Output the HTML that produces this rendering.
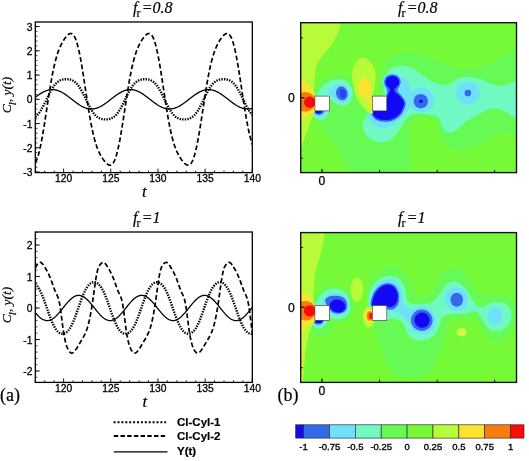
<!DOCTYPE html>
<html><head><meta charset="utf-8"><title>figure</title>
<style>html,body{margin:0;padding:0;background:#fff;font-family:"Liberation Sans",sans-serif}svg{display:block}</style></head>
<body>
<svg width="529" height="461" viewBox="0 0 529 461">
<rect width="529" height="461" fill="#fff"/>
<defs><filter id="soft" x="0" y="0" width="100%" height="100%" filterUnits="userSpaceOnUse" color-interpolation-filters="sRGB"><feGaussianBlur stdDeviation="0.38"/></filter></defs>
<g filter="url(#soft)">
<rect width="529" height="461" fill="#fff"/>
<clipPath id="cp22"><rect x="35.3" y="22" width="217.0" height="150.6"/></clipPath>
<g clip-path="url(#cp22)" fill="none" stroke="#000">
<polyline points="35.30,97.33 35.73,97.00 36.17,96.67 36.60,96.34 37.04,96.02 37.47,95.71 37.90,95.40 38.34,95.09 38.77,94.79 39.21,94.49 39.64,94.20 40.07,93.91 40.51,93.63 40.94,93.36 41.38,93.10 41.81,92.84 42.24,92.59 42.68,92.35 43.11,92.12 43.55,91.90 43.98,91.68 44.41,91.48 44.85,91.28 45.28,91.10 45.72,90.92 46.15,90.76 46.58,90.60 47.02,90.46 47.45,90.32 47.89,90.20 48.32,90.09 48.75,89.99 49.19,89.90 49.62,89.82 50.06,89.76 50.49,89.70 50.92,89.66 51.36,89.63 51.79,89.61 52.23,89.60 52.66,89.60 53.09,89.62 53.53,89.65 53.96,89.69 54.40,89.74 54.83,89.80 55.26,89.88 55.70,89.96 56.13,90.06 56.57,90.17 57.00,90.29 57.43,90.42 57.87,90.56 58.30,90.71 58.74,90.88 59.17,91.05 59.60,91.23 60.04,91.43 60.47,91.63 60.91,91.84 61.34,92.06 61.77,92.29 62.21,92.53 62.64,92.78 63.08,93.03 63.51,93.29 63.94,93.56 64.38,93.84 64.81,94.12 65.25,94.41 65.68,94.71 66.11,95.01 66.55,95.31 66.98,95.63 67.42,95.94 67.85,96.26 68.28,96.58 68.72,96.91 69.15,97.24 69.59,97.57 70.02,97.91 70.45,98.24 70.89,98.58 71.32,98.92 71.76,99.26 72.19,99.59 72.62,99.93 73.06,100.27 73.49,100.61 73.93,100.94 74.36,101.27 74.79,101.60 75.23,101.93 75.66,102.26 76.10,102.58 76.53,102.89 76.96,103.20 77.40,103.51 77.83,103.81 78.27,104.11 78.70,104.40 79.13,104.69 79.57,104.97 80.00,105.24 80.44,105.50 80.87,105.76 81.30,106.01 81.74,106.25 82.17,106.48 82.61,106.70 83.04,106.92 83.47,107.12 83.91,107.32 84.34,107.50 84.78,107.68 85.21,107.84 85.64,108.00 86.08,108.14 86.51,108.28 86.95,108.40 87.38,108.51 87.81,108.61 88.25,108.70 88.68,108.78 89.12,108.84 89.55,108.90 89.98,108.94 90.42,108.97 90.85,108.99 91.29,109.00 91.72,109.00 92.15,108.98 92.59,108.95 93.02,108.91 93.46,108.86 93.89,108.80 94.32,108.72 94.76,108.64 95.19,108.54 95.63,108.43 96.06,108.31 96.49,108.18 96.93,108.04 97.36,107.89 97.80,107.72 98.23,107.55 98.66,107.37 99.10,107.17 99.53,106.97 99.97,106.76 100.40,106.54 100.83,106.31 101.27,106.07 101.70,105.82 102.14,105.57 102.57,105.31 103.00,105.04 103.44,104.76 103.87,104.48 104.31,104.19 104.74,103.89 105.17,103.59 105.61,103.29 106.04,102.97 106.48,102.66 106.91,102.34 107.34,102.02 107.78,101.69 108.21,101.36 108.65,101.03 109.08,100.69 109.51,100.36 109.95,100.02 110.38,99.68 110.82,99.34 111.25,99.01 111.68,98.67 112.12,98.33 112.55,97.99 112.99,97.66 113.42,97.33 113.85,97.00 114.29,96.67 114.72,96.34 115.16,96.02 115.59,95.71 116.02,95.40 116.46,95.09 116.89,94.79 117.33,94.49 117.76,94.20 118.19,93.91 118.63,93.63 119.06,93.36 119.50,93.10 119.93,92.84 120.36,92.59 120.80,92.35 121.23,92.12 121.67,91.90 122.10,91.68 122.53,91.48 122.97,91.28 123.40,91.10 123.84,90.92 124.27,90.76 124.70,90.60 125.14,90.46 125.57,90.32 126.01,90.20 126.44,90.09 126.87,89.99 127.31,89.90 127.74,89.82 128.18,89.76 128.61,89.70 129.04,89.66 129.48,89.63 129.91,89.61 130.35,89.60 130.78,89.60 131.21,89.62 131.65,89.65 132.08,89.69 132.52,89.74 132.95,89.80 133.38,89.88 133.82,89.96 134.25,90.06 134.69,90.17 135.12,90.29 135.55,90.42 135.99,90.56 136.42,90.71 136.86,90.88 137.29,91.05 137.72,91.23 138.16,91.43 138.59,91.63 139.03,91.84 139.46,92.06 139.89,92.29 140.33,92.53 140.76,92.78 141.20,93.03 141.63,93.29 142.06,93.56 142.50,93.84 142.93,94.12 143.37,94.41 143.80,94.71 144.23,95.01 144.67,95.31 145.10,95.63 145.54,95.94 145.97,96.26 146.40,96.58 146.84,96.91 147.27,97.24 147.71,97.57 148.14,97.91 148.57,98.24 149.01,98.58 149.44,98.92 149.88,99.26 150.31,99.59 150.74,99.93 151.18,100.27 151.61,100.61 152.05,100.94 152.48,101.27 152.91,101.60 153.35,101.93 153.78,102.26 154.22,102.58 154.65,102.89 155.08,103.20 155.52,103.51 155.95,103.81 156.39,104.11 156.82,104.40 157.25,104.69 157.69,104.97 158.12,105.24 158.56,105.50 158.99,105.76 159.42,106.01 159.86,106.25 160.29,106.48 160.73,106.70 161.16,106.92 161.59,107.12 162.03,107.32 162.46,107.50 162.90,107.68 163.33,107.84 163.76,108.00 164.20,108.14 164.63,108.28 165.07,108.40 165.50,108.51 165.93,108.61 166.37,108.70 166.80,108.78 167.24,108.84 167.67,108.90 168.10,108.94 168.54,108.97 168.97,108.99 169.41,109.00 169.84,109.00 170.27,108.98 170.71,108.95 171.14,108.91 171.58,108.86 172.01,108.80 172.44,108.72 172.88,108.64 173.31,108.54 173.75,108.43 174.18,108.31 174.61,108.18 175.05,108.04 175.48,107.89 175.92,107.72 176.35,107.55 176.78,107.37 177.22,107.17 177.65,106.97 178.09,106.76 178.52,106.54 178.95,106.31 179.39,106.07 179.82,105.82 180.26,105.57 180.69,105.31 181.12,105.04 181.56,104.76 181.99,104.48 182.43,104.19 182.86,103.89 183.29,103.59 183.73,103.29 184.16,102.97 184.60,102.66 185.03,102.34 185.46,102.02 185.90,101.69 186.33,101.36 186.77,101.03 187.20,100.69 187.63,100.36 188.07,100.02 188.50,99.68 188.94,99.34 189.37,99.01 189.80,98.67 190.24,98.33 190.67,97.99 191.11,97.66 191.54,97.33 191.97,97.00 192.41,96.67 192.84,96.34 193.28,96.02 193.71,95.71 194.14,95.40 194.58,95.09 195.01,94.79 195.45,94.49 195.88,94.20 196.31,93.91 196.75,93.63 197.18,93.36 197.62,93.10 198.05,92.84 198.48,92.59 198.92,92.35 199.35,92.12 199.79,91.90 200.22,91.68 200.65,91.48 201.09,91.28 201.52,91.10 201.96,90.92 202.39,90.76 202.82,90.60 203.26,90.46 203.69,90.32 204.13,90.20 204.56,90.09 204.99,89.99 205.43,89.90 205.86,89.82 206.30,89.76 206.73,89.70 207.16,89.66 207.60,89.63 208.03,89.61 208.47,89.60 208.90,89.60 209.33,89.62 209.77,89.65 210.20,89.69 210.64,89.74 211.07,89.80 211.50,89.88 211.94,89.96 212.37,90.06 212.81,90.17 213.24,90.29 213.67,90.42 214.11,90.56 214.54,90.71 214.98,90.88 215.41,91.05 215.84,91.23 216.28,91.43 216.71,91.63 217.15,91.84 217.58,92.06 218.01,92.29 218.45,92.53 218.88,92.78 219.32,93.03 219.75,93.29 220.18,93.56 220.62,93.84 221.05,94.12 221.49,94.41 221.92,94.71 222.35,95.01 222.79,95.31 223.22,95.63 223.66,95.94 224.09,96.26 224.52,96.58 224.96,96.91 225.39,97.24 225.83,97.57 226.26,97.91 226.69,98.24 227.13,98.58 227.56,98.92 228.00,99.26 228.43,99.59 228.86,99.93 229.30,100.27 229.73,100.61 230.17,100.94 230.60,101.27 231.03,101.60 231.47,101.93 231.90,102.26 232.34,102.58 232.77,102.89 233.20,103.20 233.64,103.51 234.07,103.81 234.51,104.11 234.94,104.40 235.37,104.69 235.81,104.97 236.24,105.24 236.68,105.50 237.11,105.76 237.54,106.01 237.98,106.25 238.41,106.48 238.85,106.70 239.28,106.92 239.71,107.12 240.15,107.32 240.58,107.50 241.02,107.68 241.45,107.84 241.88,108.00 242.32,108.14 242.75,108.28 243.19,108.40 243.62,108.51 244.05,108.61 244.49,108.70 244.92,108.78 245.36,108.84 245.79,108.90 246.22,108.94 246.66,108.97 247.09,108.99 247.53,109.00 247.96,109.00 248.39,108.98 248.83,108.95 249.26,108.91 249.70,108.86 250.13,108.80 250.56,108.72 251.00,108.64 251.43,108.54 251.87,108.43 252.30,108.31" stroke-width="1.3"/>
<polyline points="35.30,116.88 35.73,116.54 36.17,116.17 36.60,115.78 37.04,115.35 37.47,114.90 37.90,114.42 38.34,113.90 38.77,113.36 39.21,112.78 39.64,112.18 40.07,111.54 40.51,110.88 40.94,110.19 41.38,109.47 41.81,108.73 42.24,107.96 42.68,107.17 43.11,106.36 43.55,105.53 43.98,104.69 44.41,103.82 44.85,102.95 45.28,102.07 45.72,101.18 46.15,100.28 46.58,99.38 47.02,98.48 47.45,97.58 47.89,96.69 48.32,95.80 48.75,94.93 49.19,94.06 49.62,93.21 50.06,92.38 50.49,91.57 50.92,90.77 51.36,90.00 51.79,89.25 52.23,88.53 52.66,87.84 53.09,87.17 53.53,86.53 53.96,85.92 54.40,85.34 54.83,84.79 55.26,84.27 55.70,83.78 56.13,83.32 56.57,82.89 57.00,82.49 57.43,82.12 57.87,81.78 58.30,81.46 58.74,81.17 59.17,80.91 59.60,80.67 60.04,80.45 60.47,80.26 60.91,80.08 61.34,79.92 61.77,79.78 62.21,79.66 62.64,79.56 63.08,79.47 63.51,79.39 63.94,79.32 64.38,79.27 64.81,79.23 65.25,79.20 65.68,79.18 66.11,79.17 66.55,79.17 66.98,79.19 67.42,79.21 67.85,79.24 68.28,79.29 68.72,79.34 69.15,79.41 69.59,79.49 70.02,79.59 70.45,79.70 70.89,79.82 71.32,79.97 71.76,80.13 72.19,80.31 72.62,80.51 73.06,80.74 73.49,80.98 73.93,81.25 74.36,81.55 74.79,81.87 75.23,82.23 75.66,82.60 76.10,83.01 76.53,83.45 76.96,83.92 77.40,84.41 77.83,84.94 78.27,85.50 78.70,86.09 79.13,86.71 79.57,87.36 80.00,88.03 80.44,88.73 80.87,89.46 81.30,90.22 81.74,91.00 82.17,91.80 82.61,92.61 83.04,93.45 83.47,94.31 83.91,95.17 84.34,96.05 84.78,96.94 85.21,97.83 85.64,98.73 86.08,99.63 86.51,100.53 86.95,101.43 87.38,102.32 87.81,103.20 88.25,104.07 88.68,104.93 89.12,105.77 89.55,106.59 89.98,107.40 90.42,108.18 90.85,108.94 91.29,109.68 91.72,110.39 92.15,111.07 92.59,111.73 93.02,112.35 93.46,112.95 93.89,113.51 94.32,114.05 94.76,114.56 95.19,115.03 95.63,115.48 96.06,115.89 96.49,116.28 96.93,116.64 97.36,116.97 97.80,117.27 98.23,117.55 98.66,117.80 99.10,118.03 99.53,118.24 99.97,118.43 100.40,118.59 100.83,118.74 101.27,118.87 101.70,118.99 102.14,119.09 102.57,119.17 103.00,119.24 103.44,119.30 103.87,119.35 104.31,119.38 104.74,119.41 105.17,119.42 105.61,119.43 106.04,119.42 106.48,119.40 106.91,119.38 107.34,119.34 107.78,119.29 108.21,119.23 108.65,119.16 109.08,119.07 109.51,118.97 109.95,118.85 110.38,118.71 110.82,118.56 111.25,118.39 111.68,118.20 112.12,117.99 112.55,117.75 112.99,117.50 113.42,117.21 113.85,116.90 114.29,116.57 114.72,116.21 115.16,115.81 115.59,115.39 116.02,114.94 116.46,114.46 116.89,113.95 117.33,113.41 117.76,112.83 118.19,112.23 118.63,111.60 119.06,110.94 119.50,110.25 119.93,109.54 120.36,108.80 120.80,108.03 121.23,107.24 121.67,106.43 122.10,105.61 122.53,104.76 122.97,103.90 123.40,103.03 123.84,102.14 124.27,101.25 124.70,100.36 125.14,99.46 125.57,98.56 126.01,97.66 126.44,96.77 126.87,95.88 127.31,95.00 127.74,94.14 128.18,93.29 128.61,92.45 129.04,91.64 129.48,90.84 129.91,90.07 130.35,89.32 130.78,88.59 131.21,87.90 131.65,87.23 132.08,86.58 132.52,85.97 132.95,85.39 133.38,84.84 133.82,84.32 134.25,83.82 134.69,83.36 135.12,82.93 135.55,82.53 135.99,82.15 136.42,81.81 136.86,81.49 137.29,81.20 137.72,80.93 138.16,80.69 138.59,80.47 139.03,80.27 139.46,80.09 139.89,79.94 140.33,79.80 140.76,79.67 141.20,79.57 141.63,79.47 142.06,79.39 142.50,79.33 142.93,79.28 143.37,79.23 143.80,79.20 144.23,79.18 144.67,79.17 145.10,79.17 145.54,79.18 145.97,79.21 146.40,79.24 146.84,79.28 147.27,79.34 147.71,79.40 148.14,79.48 148.57,79.58 149.01,79.69 149.44,79.81 149.88,79.95 150.31,80.11 150.74,80.29 151.18,80.49 151.61,80.71 152.05,80.96 152.48,81.23 152.91,81.52 153.35,81.85 153.78,82.19 154.22,82.57 154.65,82.98 155.08,83.41 155.52,83.88 155.95,84.37 156.39,84.90 156.82,85.45 157.25,86.04 157.69,86.65 158.12,87.30 158.56,87.97 158.99,88.67 159.42,89.40 159.86,90.15 160.29,90.93 160.73,91.72 161.16,92.54 161.59,93.38 162.03,94.23 162.46,95.10 162.90,95.97 163.33,96.86 163.76,97.76 164.20,98.65 164.63,99.55 165.07,100.45 165.50,101.35 165.93,102.24 166.37,103.12 166.80,103.99 167.24,104.85 167.67,105.70 168.10,106.52 168.54,107.33 168.97,108.11 169.41,108.88 169.84,109.62 170.27,110.33 170.71,111.01 171.14,111.67 171.58,112.30 172.01,112.90 172.44,113.47 172.88,114.01 173.31,114.51 173.75,114.99 174.18,115.44 174.61,115.86 175.05,116.25 175.48,116.61 175.92,116.94 176.35,117.25 176.78,117.53 177.22,117.78 177.65,118.01 178.09,118.22 178.52,118.41 178.95,118.58 179.39,118.73 179.82,118.86 180.26,118.98 180.69,119.08 181.12,119.16 181.56,119.24 181.99,119.30 182.43,119.34 182.86,119.38 183.29,119.41 183.73,119.42 184.16,119.43 184.60,119.42 185.03,119.41 185.46,119.38 185.90,119.34 186.33,119.30 186.77,119.24 187.20,119.16 187.63,119.08 188.07,118.98 188.50,118.86 188.94,118.73 189.37,118.58 189.80,118.41 190.24,118.22 190.67,118.01 191.11,117.78 191.54,117.52 191.97,117.24 192.41,116.93 192.84,116.60 193.28,116.24 193.71,115.85 194.14,115.43 194.58,114.98 195.01,114.50 195.45,113.99 195.88,113.45 196.31,112.88 196.75,112.29 197.18,111.66 197.62,111.00 198.05,110.31 198.48,109.60 198.92,108.86 199.35,108.10 199.79,107.31 200.22,106.50 200.65,105.68 201.09,104.83 201.52,103.98 201.96,103.10 202.39,102.22 202.82,101.33 203.26,100.43 203.69,99.53 204.13,98.63 204.56,97.74 204.99,96.84 205.43,95.96 205.86,95.08 206.30,94.21 206.73,93.36 207.16,92.52 207.60,91.71 208.03,90.91 208.47,90.13 208.90,89.38 209.33,88.66 209.77,87.96 210.20,87.28 210.64,86.64 211.07,86.02 211.50,85.44 211.94,84.88 212.37,84.36 212.81,83.86 213.24,83.40 213.67,82.97 214.11,82.56 214.54,82.19 214.98,81.84 215.41,81.52 215.84,81.22 216.28,80.95 216.71,80.71 217.15,80.49 217.58,80.29 218.01,80.11 218.45,79.95 218.88,79.81 219.32,79.68 219.75,79.57 220.18,79.48 220.62,79.40 221.05,79.33 221.49,79.28 221.92,79.24 222.35,79.21 222.79,79.18 223.22,79.17 223.66,79.17 224.09,79.18 224.52,79.20 224.96,79.23 225.39,79.28 225.83,79.33 226.26,79.40 226.69,79.48 227.13,79.57 227.56,79.68 228.00,79.80 228.43,79.94 228.86,80.10 229.30,80.28 229.73,80.47 230.17,80.69 230.60,80.94 231.03,81.21 231.47,81.50 231.90,81.82 232.34,82.16 232.77,82.54 233.20,82.94 233.64,83.37 234.07,83.83 234.51,84.33 234.94,84.85 235.37,85.40 235.81,85.99 236.24,86.60 236.68,87.24 237.11,87.91 237.54,88.61 237.98,89.33 238.41,90.08 238.85,90.86 239.28,91.65 239.71,92.47 240.15,93.31 240.58,94.16 241.02,95.02 241.45,95.90 241.88,96.78 242.32,97.68 242.75,98.58 243.19,99.48 243.62,100.38 244.05,101.27 244.49,102.16 244.92,103.05 245.36,103.92 245.79,104.78 246.22,105.62 246.66,106.45 247.09,107.26 247.53,108.05 247.96,108.81 248.39,109.55 248.83,110.27 249.26,110.95 249.70,111.61 250.13,112.25 250.56,112.85 251.00,113.42 251.43,113.96 251.87,114.47 252.30,114.95" stroke-width="2.4" stroke-dasharray="1.4 1.2"/>
<polyline points="35.30,162.66 35.73,161.91 36.17,161.05 36.60,160.07 37.04,158.98 37.47,157.78 37.90,156.46 38.34,155.02 38.77,153.46 39.21,151.80 39.64,150.01 40.07,148.12 40.51,146.12 40.94,144.02 41.38,141.82 41.81,139.53 42.24,137.14 42.68,134.68 43.11,132.14 43.55,129.53 43.98,126.86 44.41,124.14 44.85,121.38 45.28,118.58 45.72,115.75 46.15,112.90 46.58,110.04 47.02,107.18 47.45,104.33 47.89,101.49 48.32,98.67 48.75,95.89 49.19,93.14 49.62,90.43 50.06,87.78 50.49,85.18 50.92,82.65 51.36,80.18 51.79,77.79 52.23,75.46 52.66,73.22 53.09,71.06 53.53,68.97 53.96,66.98 54.40,65.06 54.83,63.23 55.26,61.47 55.70,59.80 56.13,58.21 56.57,56.70 57.00,55.26 57.43,53.90 57.87,52.60 58.30,51.37 58.74,50.20 59.17,49.09 59.60,48.03 60.04,47.03 60.47,46.07 60.91,45.16 61.34,44.29 61.77,43.45 62.21,42.65 62.64,41.89 63.08,41.15 63.51,40.44 63.94,39.76 64.38,39.11 64.81,38.48 65.25,37.88 65.68,37.31 66.11,36.76 66.55,36.25 66.98,35.77 67.42,35.33 67.85,34.92 68.28,34.55 68.72,34.24 69.15,33.97 69.59,33.75 70.02,33.60 70.45,33.51 70.89,33.48 71.32,33.54 71.76,33.67 72.19,33.88 72.62,34.19 73.06,34.59 73.49,35.08 73.93,35.68 74.36,36.38 74.79,37.20 75.23,38.12 75.66,39.16 76.10,40.31 76.53,41.58 76.96,42.97 77.40,44.47 77.83,46.10 78.27,47.83 78.70,49.68 79.13,51.64 79.57,53.70 80.00,55.87 80.44,58.13 80.87,60.49 81.30,62.93 81.74,65.45 82.17,68.05 82.61,70.71 83.04,73.42 83.47,76.19 83.91,78.99 84.34,81.83 84.78,84.69 85.21,87.57 85.64,90.45 86.08,93.33 86.51,96.20 86.95,99.05 87.38,101.87 87.81,104.65 88.25,107.40 88.68,110.09 89.12,112.73 89.55,115.31 89.98,117.82 90.42,120.26 90.85,122.63 91.29,124.91 91.72,127.12 92.15,129.24 92.59,131.28 93.02,133.23 93.46,135.09 93.89,136.87 94.32,138.56 94.76,140.17 95.19,141.70 95.63,143.15 96.06,144.52 96.49,145.82 96.93,147.05 97.36,148.21 97.80,149.31 98.23,150.36 98.66,151.34 99.10,152.28 99.53,153.18 99.97,154.03 100.40,154.84 100.83,155.61 101.27,156.36 101.70,157.07 102.14,157.75 102.57,158.42 103.00,159.05 103.44,159.66 103.87,160.25 104.31,160.82 104.74,161.37 105.17,161.89 105.61,162.38 106.04,162.85 106.48,163.28 106.91,163.68 107.34,164.05 107.78,164.37 108.21,164.65 108.65,164.87 109.08,165.05 109.51,165.16 109.95,165.21 110.38,165.19 110.82,165.09 111.25,164.92 111.68,164.65 112.12,164.30 112.55,163.86 112.99,163.31 113.42,162.66 113.85,161.91 114.29,161.05 114.72,160.07 115.16,158.98 115.59,157.78 116.02,156.46 116.46,155.02 116.89,153.46 117.33,151.80 117.76,150.01 118.19,148.12 118.63,146.12 119.06,144.02 119.50,141.82 119.93,139.53 120.36,137.14 120.80,134.68 121.23,132.14 121.67,129.53 122.10,126.86 122.53,124.14 122.97,121.38 123.40,118.58 123.84,115.75 124.27,112.90 124.70,110.04 125.14,107.18 125.57,104.33 126.01,101.49 126.44,98.67 126.87,95.89 127.31,93.14 127.74,90.43 128.18,87.78 128.61,85.18 129.04,82.65 129.48,80.18 129.91,77.79 130.35,75.46 130.78,73.22 131.21,71.06 131.65,68.97 132.08,66.98 132.52,65.06 132.95,63.23 133.38,61.47 133.82,59.80 134.25,58.21 134.69,56.70 135.12,55.26 135.55,53.90 135.99,52.60 136.42,51.37 136.86,50.20 137.29,49.09 137.72,48.03 138.16,47.03 138.59,46.07 139.03,45.16 139.46,44.29 139.89,43.45 140.33,42.65 140.76,41.89 141.20,41.15 141.63,40.44 142.06,39.76 142.50,39.11 142.93,38.48 143.37,37.88 143.80,37.31 144.23,36.76 144.67,36.25 145.10,35.77 145.54,35.33 145.97,34.92 146.40,34.55 146.84,34.24 147.27,33.97 147.71,33.75 148.14,33.60 148.57,33.51 149.01,33.48 149.44,33.54 149.88,33.67 150.31,33.88 150.74,34.19 151.18,34.59 151.61,35.08 152.05,35.68 152.48,36.38 152.91,37.20 153.35,38.12 153.78,39.16 154.22,40.31 154.65,41.58 155.08,42.97 155.52,44.47 155.95,46.10 156.39,47.83 156.82,49.68 157.25,51.64 157.69,53.70 158.12,55.87 158.56,58.13 158.99,60.49 159.42,62.93 159.86,65.45 160.29,68.05 160.73,70.71 161.16,73.42 161.59,76.19 162.03,78.99 162.46,81.83 162.90,84.69 163.33,87.57 163.76,90.45 164.20,93.33 164.63,96.20 165.07,99.05 165.50,101.87 165.93,104.65 166.37,107.40 166.80,110.09 167.24,112.73 167.67,115.31 168.10,117.82 168.54,120.26 168.97,122.63 169.41,124.91 169.84,127.12 170.27,129.24 170.71,131.28 171.14,133.23 171.58,135.09 172.01,136.87 172.44,138.56 172.88,140.17 173.31,141.70 173.75,143.15 174.18,144.52 174.61,145.82 175.05,147.05 175.48,148.21 175.92,149.31 176.35,150.36 176.78,151.34 177.22,152.28 177.65,153.18 178.09,154.03 178.52,154.84 178.95,155.61 179.39,156.36 179.82,157.07 180.26,157.75 180.69,158.42 181.12,159.05 181.56,159.66 181.99,160.25 182.43,160.82 182.86,161.37 183.29,161.89 183.73,162.38 184.16,162.85 184.60,163.28 185.03,163.68 185.46,164.05 185.90,164.37 186.33,164.65 186.77,164.87 187.20,165.05 187.63,165.16 188.07,165.21 188.50,165.19 188.94,165.09 189.37,164.92 189.80,164.65 190.24,164.30 190.67,163.86 191.11,163.31 191.54,162.66 191.97,161.91 192.41,161.05 192.84,160.07 193.28,158.98 193.71,157.78 194.14,156.46 194.58,155.02 195.01,153.46 195.45,151.80 195.88,150.01 196.31,148.12 196.75,146.12 197.18,144.02 197.62,141.82 198.05,139.53 198.48,137.14 198.92,134.68 199.35,132.14 199.79,129.53 200.22,126.86 200.65,124.14 201.09,121.38 201.52,118.58 201.96,115.75 202.39,112.90 202.82,110.04 203.26,107.18 203.69,104.33 204.13,101.49 204.56,98.67 204.99,95.89 205.43,93.14 205.86,90.43 206.30,87.78 206.73,85.18 207.16,82.65 207.60,80.18 208.03,77.79 208.47,75.46 208.90,73.22 209.33,71.06 209.77,68.97 210.20,66.98 210.64,65.06 211.07,63.23 211.50,61.47 211.94,59.80 212.37,58.21 212.81,56.70 213.24,55.26 213.67,53.90 214.11,52.60 214.54,51.37 214.98,50.20 215.41,49.09 215.84,48.03 216.28,47.03 216.71,46.07 217.15,45.16 217.58,44.29 218.01,43.45 218.45,42.65 218.88,41.89 219.32,41.15 219.75,40.44 220.18,39.76 220.62,39.11 221.05,38.48 221.49,37.88 221.92,37.31 222.35,36.76 222.79,36.25 223.22,35.77 223.66,35.33 224.09,34.92 224.52,34.55 224.96,34.24 225.39,33.97 225.83,33.75 226.26,33.60 226.69,33.51 227.13,33.48 227.56,33.54 228.00,33.67 228.43,33.88 228.86,34.19 229.30,34.59 229.73,35.08 230.17,35.68 230.60,36.38 231.03,37.20 231.47,38.12 231.90,39.16 232.34,40.31 232.77,41.58 233.20,42.97 233.64,44.47 234.07,46.10 234.51,47.83 234.94,49.68 235.37,51.64 235.81,53.70 236.24,55.87 236.68,58.13 237.11,60.49 237.54,62.93 237.98,65.45 238.41,68.05 238.85,70.71 239.28,73.42 239.71,76.19 240.15,78.99 240.58,81.83 241.02,84.69 241.45,87.57 241.88,90.45 242.32,93.33 242.75,96.20 243.19,99.05 243.62,101.87 244.05,104.65 244.49,107.40 244.92,110.09 245.36,112.73 245.79,115.31 246.22,117.82 246.66,120.26 247.09,122.63 247.53,124.91 247.96,127.12 248.39,129.24 248.83,131.28 249.26,133.23 249.70,135.09 250.13,136.87 250.56,138.56 251.00,140.17 251.43,141.70 251.87,143.15 252.30,144.52" stroke-width="1.7" stroke-dasharray="4.8 2.6"/>
</g>
<rect x="35.3" y="22" width="217.0" height="150.6" fill="none" stroke="#000" stroke-width="1.3"/>
<line x1="35.30" y1="172.6" x2="35.30" y2="170.6" stroke="#000" stroke-width="0.9"/>
<line x1="44.73" y1="172.6" x2="44.73" y2="170.6" stroke="#000" stroke-width="0.9"/>
<line x1="54.17" y1="172.6" x2="54.17" y2="170.6" stroke="#000" stroke-width="0.9"/>
<line x1="63.60" y1="172.6" x2="63.60" y2="168.6" stroke="#000" stroke-width="0.9"/>
<text x="63.60" y="182.2" font-family="Liberation Sans, sans-serif" font-size="10.3" text-anchor="middle" fill="#000" stroke="#000" stroke-width="0.3">120</text>
<line x1="73.04" y1="172.6" x2="73.04" y2="170.6" stroke="#000" stroke-width="0.9"/>
<line x1="82.47" y1="172.6" x2="82.47" y2="170.6" stroke="#000" stroke-width="0.9"/>
<line x1="91.91" y1="172.6" x2="91.91" y2="170.6" stroke="#000" stroke-width="0.9"/>
<line x1="101.34" y1="172.6" x2="101.34" y2="170.6" stroke="#000" stroke-width="0.9"/>
<line x1="110.78" y1="172.6" x2="110.78" y2="168.6" stroke="#000" stroke-width="0.9"/>
<text x="110.78" y="182.2" font-family="Liberation Sans, sans-serif" font-size="10.3" text-anchor="middle" fill="#000" stroke="#000" stroke-width="0.3">125</text>
<line x1="120.21" y1="172.6" x2="120.21" y2="170.6" stroke="#000" stroke-width="0.9"/>
<line x1="129.65" y1="172.6" x2="129.65" y2="170.6" stroke="#000" stroke-width="0.9"/>
<line x1="139.08" y1="172.6" x2="139.08" y2="170.6" stroke="#000" stroke-width="0.9"/>
<line x1="148.52" y1="172.6" x2="148.52" y2="170.6" stroke="#000" stroke-width="0.9"/>
<line x1="157.95" y1="172.6" x2="157.95" y2="168.6" stroke="#000" stroke-width="0.9"/>
<text x="157.95" y="182.2" font-family="Liberation Sans, sans-serif" font-size="10.3" text-anchor="middle" fill="#000" stroke="#000" stroke-width="0.3">130</text>
<line x1="167.39" y1="172.6" x2="167.39" y2="170.6" stroke="#000" stroke-width="0.9"/>
<line x1="176.82" y1="172.6" x2="176.82" y2="170.6" stroke="#000" stroke-width="0.9"/>
<line x1="186.26" y1="172.6" x2="186.26" y2="170.6" stroke="#000" stroke-width="0.9"/>
<line x1="195.69" y1="172.6" x2="195.69" y2="170.6" stroke="#000" stroke-width="0.9"/>
<line x1="205.13" y1="172.6" x2="205.13" y2="168.6" stroke="#000" stroke-width="0.9"/>
<text x="205.13" y="182.2" font-family="Liberation Sans, sans-serif" font-size="10.3" text-anchor="middle" fill="#000" stroke="#000" stroke-width="0.3">135</text>
<line x1="214.56" y1="172.6" x2="214.56" y2="170.6" stroke="#000" stroke-width="0.9"/>
<line x1="224.00" y1="172.6" x2="224.00" y2="170.6" stroke="#000" stroke-width="0.9"/>
<line x1="233.43" y1="172.6" x2="233.43" y2="170.6" stroke="#000" stroke-width="0.9"/>
<line x1="242.87" y1="172.6" x2="242.87" y2="170.6" stroke="#000" stroke-width="0.9"/>
<line x1="252.30" y1="172.6" x2="252.30" y2="168.6" stroke="#000" stroke-width="0.9"/>
<text x="252.30" y="182.2" font-family="Liberation Sans, sans-serif" font-size="10.3" text-anchor="middle" fill="#000" stroke="#000" stroke-width="0.3">140</text>
<line x1="35.3" y1="26.55" x2="39.8" y2="26.55" stroke="#000" stroke-width="0.9"/>
<text x="32.4" y="30.55" font-family="Liberation Sans, sans-serif" font-size="10.3" text-anchor="end" fill="#000" stroke="#000" stroke-width="0.3">3</text>
<line x1="35.3" y1="50.80" x2="39.8" y2="50.80" stroke="#000" stroke-width="0.9"/>
<text x="32.4" y="54.80" font-family="Liberation Sans, sans-serif" font-size="10.3" text-anchor="end" fill="#000" stroke="#000" stroke-width="0.3">2</text>
<line x1="35.3" y1="75.05" x2="39.8" y2="75.05" stroke="#000" stroke-width="0.9"/>
<text x="32.4" y="79.05" font-family="Liberation Sans, sans-serif" font-size="10.3" text-anchor="end" fill="#000" stroke="#000" stroke-width="0.3">1</text>
<line x1="35.3" y1="99.30" x2="39.8" y2="99.30" stroke="#000" stroke-width="0.9"/>
<text x="32.4" y="103.30" font-family="Liberation Sans, sans-serif" font-size="10.3" text-anchor="end" fill="#000" stroke="#000" stroke-width="0.3">0</text>
<line x1="35.3" y1="123.55" x2="39.8" y2="123.55" stroke="#000" stroke-width="0.9"/>
<text x="32.4" y="127.55" font-family="Liberation Sans, sans-serif" font-size="10.3" text-anchor="end" fill="#000" stroke="#000" stroke-width="0.3">-1</text>
<line x1="35.3" y1="147.80" x2="39.8" y2="147.80" stroke="#000" stroke-width="0.9"/>
<text x="32.4" y="151.80" font-family="Liberation Sans, sans-serif" font-size="10.3" text-anchor="end" fill="#000" stroke="#000" stroke-width="0.3">-2</text>
<line x1="35.3" y1="172.05" x2="39.8" y2="172.05" stroke="#000" stroke-width="0.9"/>
<text x="32.4" y="176.05" font-family="Liberation Sans, sans-serif" font-size="10.3" text-anchor="end" fill="#000" stroke="#000" stroke-width="0.3">-3</text>
<line x1="35.3" y1="172.05" x2="37.5" y2="172.05" stroke="#000" stroke-width="0.7"/>
<line x1="35.3" y1="167.20" x2="37.5" y2="167.20" stroke="#000" stroke-width="0.7"/>
<line x1="35.3" y1="162.35" x2="37.5" y2="162.35" stroke="#000" stroke-width="0.7"/>
<line x1="35.3" y1="157.50" x2="37.5" y2="157.50" stroke="#000" stroke-width="0.7"/>
<line x1="35.3" y1="152.65" x2="37.5" y2="152.65" stroke="#000" stroke-width="0.7"/>
<line x1="35.3" y1="147.80" x2="37.5" y2="147.80" stroke="#000" stroke-width="0.7"/>
<line x1="35.3" y1="142.95" x2="37.5" y2="142.95" stroke="#000" stroke-width="0.7"/>
<line x1="35.3" y1="138.10" x2="37.5" y2="138.10" stroke="#000" stroke-width="0.7"/>
<line x1="35.3" y1="133.25" x2="37.5" y2="133.25" stroke="#000" stroke-width="0.7"/>
<line x1="35.3" y1="128.40" x2="37.5" y2="128.40" stroke="#000" stroke-width="0.7"/>
<line x1="35.3" y1="123.55" x2="37.5" y2="123.55" stroke="#000" stroke-width="0.7"/>
<line x1="35.3" y1="118.70" x2="37.5" y2="118.70" stroke="#000" stroke-width="0.7"/>
<line x1="35.3" y1="113.85" x2="37.5" y2="113.85" stroke="#000" stroke-width="0.7"/>
<line x1="35.3" y1="109.00" x2="37.5" y2="109.00" stroke="#000" stroke-width="0.7"/>
<line x1="35.3" y1="104.15" x2="37.5" y2="104.15" stroke="#000" stroke-width="0.7"/>
<line x1="35.3" y1="99.30" x2="37.5" y2="99.30" stroke="#000" stroke-width="0.7"/>
<line x1="35.3" y1="94.45" x2="37.5" y2="94.45" stroke="#000" stroke-width="0.7"/>
<line x1="35.3" y1="89.60" x2="37.5" y2="89.60" stroke="#000" stroke-width="0.7"/>
<line x1="35.3" y1="84.75" x2="37.5" y2="84.75" stroke="#000" stroke-width="0.7"/>
<line x1="35.3" y1="79.90" x2="37.5" y2="79.90" stroke="#000" stroke-width="0.7"/>
<line x1="35.3" y1="75.05" x2="37.5" y2="75.05" stroke="#000" stroke-width="0.7"/>
<line x1="35.3" y1="70.20" x2="37.5" y2="70.20" stroke="#000" stroke-width="0.7"/>
<line x1="35.3" y1="65.35" x2="37.5" y2="65.35" stroke="#000" stroke-width="0.7"/>
<line x1="35.3" y1="60.50" x2="37.5" y2="60.50" stroke="#000" stroke-width="0.7"/>
<line x1="35.3" y1="55.65" x2="37.5" y2="55.65" stroke="#000" stroke-width="0.7"/>
<line x1="35.3" y1="50.80" x2="37.5" y2="50.80" stroke="#000" stroke-width="0.7"/>
<line x1="35.3" y1="45.95" x2="37.5" y2="45.95" stroke="#000" stroke-width="0.7"/>
<line x1="35.3" y1="41.10" x2="37.5" y2="41.10" stroke="#000" stroke-width="0.7"/>
<line x1="35.3" y1="36.25" x2="37.5" y2="36.25" stroke="#000" stroke-width="0.7"/>
<line x1="35.3" y1="31.40" x2="37.5" y2="31.40" stroke="#000" stroke-width="0.7"/>
<line x1="35.3" y1="26.55" x2="37.5" y2="26.55" stroke="#000" stroke-width="0.7"/>
<clipPath id="cp232"><rect x="35.3" y="232" width="217.0" height="150.39999999999998"/></clipPath>
<g clip-path="url(#cp232)" fill="none" stroke="#000">
<polyline points="35.30,312.66 35.73,313.17 36.17,313.66 36.60,314.14 37.04,314.61 37.47,315.07 37.90,315.52 38.34,315.95 38.77,316.36 39.21,316.76 39.64,317.15 40.07,317.51 40.51,317.86 40.94,318.19 41.38,318.50 41.81,318.80 42.24,319.07 42.68,319.32 43.11,319.55 43.55,319.75 43.98,319.94 44.41,320.10 44.85,320.24 45.28,320.36 45.72,320.46 46.15,320.53 46.58,320.57 47.02,320.60 47.45,320.60 47.89,320.57 48.32,320.53 48.75,320.46 49.19,320.36 49.62,320.24 50.06,320.10 50.49,319.94 50.92,319.75 51.36,319.55 51.79,319.32 52.23,319.07 52.66,318.80 53.09,318.50 53.53,318.19 53.96,317.86 54.40,317.51 54.83,317.15 55.26,316.76 55.70,316.36 56.13,315.95 56.57,315.52 57.00,315.07 57.43,314.61 57.87,314.14 58.30,313.66 58.74,313.17 59.17,312.66 59.60,312.15 60.04,311.63 60.47,311.11 60.91,310.58 61.34,310.04 61.77,309.50 62.21,308.95 62.64,308.41 63.08,307.86 63.51,307.32 63.94,306.77 64.38,306.23 64.81,305.69 65.25,305.16 65.68,304.63 66.11,304.11 66.55,303.59 66.98,303.08 67.42,302.59 67.85,302.10 68.28,301.62 68.72,301.16 69.15,300.70 69.59,300.27 70.02,299.84 70.45,299.43 70.89,299.04 71.32,298.67 71.76,298.31 72.19,297.97 72.62,297.65 73.06,297.35 73.49,297.07 73.93,296.80 74.36,296.56 74.79,296.35 75.23,296.15 75.66,295.98 76.10,295.82 76.53,295.69 76.96,295.59 77.40,295.51 77.83,295.45 78.27,295.41 78.70,295.40 79.13,295.41 79.57,295.45 80.00,295.51 80.44,295.59 80.87,295.69 81.30,295.82 81.74,295.98 82.17,296.15 82.61,296.35 83.04,296.56 83.47,296.80 83.91,297.07 84.34,297.35 84.78,297.65 85.21,297.97 85.64,298.31 86.08,298.67 86.51,299.04 86.95,299.43 87.38,299.84 87.81,300.27 88.25,300.70 88.68,301.16 89.12,301.62 89.55,302.10 89.98,302.59 90.42,303.08 90.85,303.59 91.29,304.11 91.72,304.63 92.15,305.16 92.59,305.69 93.02,306.23 93.46,306.77 93.89,307.32 94.32,307.86 94.76,308.41 95.19,308.95 95.63,309.50 96.06,310.04 96.49,310.58 96.93,311.11 97.36,311.63 97.80,312.15 98.23,312.66 98.66,313.17 99.10,313.66 99.53,314.14 99.97,314.61 100.40,315.07 100.83,315.52 101.27,315.95 101.70,316.36 102.14,316.76 102.57,317.15 103.00,317.51 103.44,317.86 103.87,318.19 104.31,318.50 104.74,318.80 105.17,319.07 105.61,319.32 106.04,319.55 106.48,319.75 106.91,319.94 107.34,320.10 107.78,320.24 108.21,320.36 108.65,320.46 109.08,320.53 109.51,320.57 109.95,320.60 110.38,320.60 110.82,320.57 111.25,320.53 111.68,320.46 112.12,320.36 112.55,320.24 112.99,320.10 113.42,319.94 113.85,319.75 114.29,319.55 114.72,319.32 115.16,319.07 115.59,318.80 116.02,318.50 116.46,318.19 116.89,317.86 117.33,317.51 117.76,317.15 118.19,316.76 118.63,316.36 119.06,315.95 119.50,315.52 119.93,315.07 120.36,314.61 120.80,314.14 121.23,313.66 121.67,313.17 122.10,312.66 122.53,312.15 122.97,311.63 123.40,311.11 123.84,310.58 124.27,310.04 124.70,309.50 125.14,308.95 125.57,308.41 126.01,307.86 126.44,307.32 126.87,306.77 127.31,306.23 127.74,305.69 128.18,305.16 128.61,304.63 129.04,304.11 129.48,303.59 129.91,303.08 130.35,302.59 130.78,302.10 131.21,301.62 131.65,301.16 132.08,300.70 132.52,300.27 132.95,299.84 133.38,299.43 133.82,299.04 134.25,298.67 134.69,298.31 135.12,297.97 135.55,297.65 135.99,297.35 136.42,297.07 136.86,296.80 137.29,296.56 137.72,296.35 138.16,296.15 138.59,295.98 139.03,295.82 139.46,295.69 139.89,295.59 140.33,295.51 140.76,295.45 141.20,295.41 141.63,295.40 142.06,295.41 142.50,295.45 142.93,295.51 143.37,295.59 143.80,295.69 144.23,295.82 144.67,295.98 145.10,296.15 145.54,296.35 145.97,296.56 146.40,296.80 146.84,297.07 147.27,297.35 147.71,297.65 148.14,297.97 148.57,298.31 149.01,298.67 149.44,299.04 149.88,299.43 150.31,299.84 150.74,300.27 151.18,300.70 151.61,301.16 152.05,301.62 152.48,302.10 152.91,302.59 153.35,303.08 153.78,303.59 154.22,304.11 154.65,304.63 155.08,305.16 155.52,305.69 155.95,306.23 156.39,306.77 156.82,307.32 157.25,307.86 157.69,308.41 158.12,308.95 158.56,309.50 158.99,310.04 159.42,310.58 159.86,311.11 160.29,311.63 160.73,312.15 161.16,312.66 161.59,313.17 162.03,313.66 162.46,314.14 162.90,314.61 163.33,315.07 163.76,315.52 164.20,315.95 164.63,316.36 165.07,316.76 165.50,317.15 165.93,317.51 166.37,317.86 166.80,318.19 167.24,318.50 167.67,318.80 168.10,319.07 168.54,319.32 168.97,319.55 169.41,319.75 169.84,319.94 170.27,320.10 170.71,320.24 171.14,320.36 171.58,320.46 172.01,320.53 172.44,320.57 172.88,320.60 173.31,320.60 173.75,320.57 174.18,320.53 174.61,320.46 175.05,320.36 175.48,320.24 175.92,320.10 176.35,319.94 176.78,319.75 177.22,319.55 177.65,319.32 178.09,319.07 178.52,318.80 178.95,318.50 179.39,318.19 179.82,317.86 180.26,317.51 180.69,317.15 181.12,316.76 181.56,316.36 181.99,315.95 182.43,315.52 182.86,315.07 183.29,314.61 183.73,314.14 184.16,313.66 184.60,313.17 185.03,312.66 185.46,312.15 185.90,311.63 186.33,311.11 186.77,310.58 187.20,310.04 187.63,309.50 188.07,308.95 188.50,308.41 188.94,307.86 189.37,307.32 189.80,306.77 190.24,306.23 190.67,305.69 191.11,305.16 191.54,304.63 191.97,304.11 192.41,303.59 192.84,303.08 193.28,302.59 193.71,302.10 194.14,301.62 194.58,301.16 195.01,300.70 195.45,300.27 195.88,299.84 196.31,299.43 196.75,299.04 197.18,298.67 197.62,298.31 198.05,297.97 198.48,297.65 198.92,297.35 199.35,297.07 199.79,296.80 200.22,296.56 200.65,296.35 201.09,296.15 201.52,295.98 201.96,295.82 202.39,295.69 202.82,295.59 203.26,295.51 203.69,295.45 204.13,295.41 204.56,295.40 204.99,295.41 205.43,295.45 205.86,295.51 206.30,295.59 206.73,295.69 207.16,295.82 207.60,295.98 208.03,296.15 208.47,296.35 208.90,296.56 209.33,296.80 209.77,297.07 210.20,297.35 210.64,297.65 211.07,297.97 211.50,298.31 211.94,298.67 212.37,299.04 212.81,299.43 213.24,299.84 213.67,300.27 214.11,300.70 214.54,301.16 214.98,301.62 215.41,302.10 215.84,302.59 216.28,303.08 216.71,303.59 217.15,304.11 217.58,304.63 218.01,305.16 218.45,305.69 218.88,306.23 219.32,306.77 219.75,307.32 220.18,307.86 220.62,308.41 221.05,308.95 221.49,309.50 221.92,310.04 222.35,310.58 222.79,311.11 223.22,311.63 223.66,312.15 224.09,312.66 224.52,313.17 224.96,313.66 225.39,314.14 225.83,314.61 226.26,315.07 226.69,315.52 227.13,315.95 227.56,316.36 228.00,316.76 228.43,317.15 228.86,317.51 229.30,317.86 229.73,318.19 230.17,318.50 230.60,318.80 231.03,319.07 231.47,319.32 231.90,319.55 232.34,319.75 232.77,319.94 233.20,320.10 233.64,320.24 234.07,320.36 234.51,320.46 234.94,320.53 235.37,320.57 235.81,320.60 236.24,320.60 236.68,320.57 237.11,320.53 237.54,320.46 237.98,320.36 238.41,320.24 238.85,320.10 239.28,319.94 239.71,319.75 240.15,319.55 240.58,319.32 241.02,319.07 241.45,318.80 241.88,318.50 242.32,318.19 242.75,317.86 243.19,317.51 243.62,317.15 244.05,316.76 244.49,316.36 244.92,315.95 245.36,315.52 245.79,315.07 246.22,314.61 246.66,314.14 247.09,313.66 247.53,313.17 247.96,312.66 248.39,312.15 248.83,311.63 249.26,311.11 249.70,310.58 250.13,310.04 250.56,309.50 251.00,308.95 251.43,308.41 251.87,307.86 252.30,307.32" stroke-width="1.3"/>
<polyline points="35.30,283.89 35.73,284.28 36.17,284.71 36.60,285.18 37.04,285.70 37.47,286.26 37.90,286.86 38.34,287.51 38.77,288.21 39.21,288.95 39.64,289.73 40.07,290.56 40.51,291.43 40.94,292.34 41.38,293.30 41.81,294.29 42.24,295.33 42.68,296.39 43.11,297.50 43.55,298.63 43.98,299.79 44.41,300.97 44.85,302.18 45.28,303.40 45.72,304.64 46.15,305.89 46.58,307.14 47.02,308.40 47.45,309.65 47.89,310.90 48.32,312.14 48.75,313.37 49.19,314.59 49.62,315.78 50.06,316.95 50.49,318.09 50.92,319.20 51.36,320.28 51.79,321.33 52.23,322.34 52.66,323.31 53.09,324.24 53.53,325.13 53.96,325.97 54.40,326.77 54.83,327.53 55.26,328.24 55.70,328.90 56.13,329.52 56.57,330.10 57.00,330.63 57.43,331.12 57.87,331.57 58.30,331.97 58.74,332.33 59.17,332.65 59.60,332.93 60.04,333.17 60.47,333.37 60.91,333.54 61.34,333.66 61.77,333.75 62.21,333.80 62.64,333.82 63.08,333.80 63.51,333.74 63.94,333.65 64.38,333.52 64.81,333.35 65.25,333.14 65.68,332.90 66.11,332.61 66.55,332.28 66.98,331.92 67.42,331.51 67.85,331.06 68.28,330.57 68.72,330.03 69.15,329.45 69.59,328.82 70.02,328.15 70.45,327.43 70.89,326.67 71.32,325.86 71.76,325.01 72.19,324.12 72.62,323.18 73.06,322.21 73.49,321.19 73.93,320.14 74.36,319.06 74.79,317.94 75.23,316.80 75.66,315.62 76.10,314.43 76.53,313.21 76.96,311.98 77.40,310.74 77.83,309.49 78.27,308.23 78.70,306.98 79.13,305.72 79.57,304.48 80.00,303.24 80.44,302.02 80.87,300.82 81.30,299.63 81.74,298.48 82.17,297.35 82.61,296.25 83.04,295.19 83.47,294.16 83.91,293.17 84.34,292.22 84.78,291.31 85.21,290.45 85.64,289.62 86.08,288.85 86.51,288.11 86.95,287.42 87.38,286.78 87.81,286.18 88.25,285.63 88.68,285.12 89.12,284.65 89.55,284.23 89.98,283.85 90.42,283.51 90.85,283.21 91.29,282.95 91.72,282.72 92.15,282.54 92.59,282.40 93.02,282.29 93.46,282.22 93.89,282.18 94.32,282.19 94.76,282.23 95.19,282.30 95.63,282.41 96.06,282.56 96.49,282.75 96.93,282.98 97.36,283.24 97.80,283.55 98.23,283.89 98.66,284.28 99.10,284.71 99.53,285.18 99.97,285.70 100.40,286.26 100.83,286.86 101.27,287.51 101.70,288.21 102.14,288.95 102.57,289.73 103.00,290.56 103.44,291.43 103.87,292.34 104.31,293.30 104.74,294.29 105.17,295.33 105.61,296.39 106.04,297.50 106.48,298.63 106.91,299.79 107.34,300.97 107.78,302.18 108.21,303.40 108.65,304.64 109.08,305.89 109.51,307.14 109.95,308.40 110.38,309.65 110.82,310.90 111.25,312.14 111.68,313.37 112.12,314.59 112.55,315.78 112.99,316.95 113.42,318.09 113.85,319.20 114.29,320.28 114.72,321.33 115.16,322.34 115.59,323.31 116.02,324.24 116.46,325.13 116.89,325.97 117.33,326.77 117.76,327.53 118.19,328.24 118.63,328.90 119.06,329.52 119.50,330.10 119.93,330.63 120.36,331.12 120.80,331.57 121.23,331.97 121.67,332.33 122.10,332.65 122.53,332.93 122.97,333.17 123.40,333.37 123.84,333.54 124.27,333.66 124.70,333.75 125.14,333.80 125.57,333.82 126.01,333.80 126.44,333.74 126.87,333.65 127.31,333.52 127.74,333.35 128.18,333.14 128.61,332.90 129.04,332.61 129.48,332.28 129.91,331.92 130.35,331.51 130.78,331.06 131.21,330.57 131.65,330.03 132.08,329.45 132.52,328.82 132.95,328.15 133.38,327.43 133.82,326.67 134.25,325.86 134.69,325.01 135.12,324.12 135.55,323.18 135.99,322.21 136.42,321.19 136.86,320.14 137.29,319.06 137.72,317.94 138.16,316.80 138.59,315.62 139.03,314.43 139.46,313.21 139.89,311.98 140.33,310.74 140.76,309.49 141.20,308.23 141.63,306.98 142.06,305.72 142.50,304.48 142.93,303.24 143.37,302.02 143.80,300.82 144.23,299.63 144.67,298.48 145.10,297.35 145.54,296.25 145.97,295.19 146.40,294.16 146.84,293.17 147.27,292.22 147.71,291.31 148.14,290.45 148.57,289.62 149.01,288.85 149.44,288.11 149.88,287.42 150.31,286.78 150.74,286.18 151.18,285.63 151.61,285.12 152.05,284.65 152.48,284.23 152.91,283.85 153.35,283.51 153.78,283.21 154.22,282.95 154.65,282.72 155.08,282.54 155.52,282.40 155.95,282.29 156.39,282.22 156.82,282.18 157.25,282.19 157.69,282.23 158.12,282.30 158.56,282.41 158.99,282.56 159.42,282.75 159.86,282.98 160.29,283.24 160.73,283.55 161.16,283.89 161.59,284.28 162.03,284.71 162.46,285.18 162.90,285.70 163.33,286.26 163.76,286.86 164.20,287.51 164.63,288.21 165.07,288.95 165.50,289.73 165.93,290.56 166.37,291.43 166.80,292.34 167.24,293.30 167.67,294.29 168.10,295.33 168.54,296.39 168.97,297.50 169.41,298.63 169.84,299.79 170.27,300.97 170.71,302.18 171.14,303.40 171.58,304.64 172.01,305.89 172.44,307.14 172.88,308.40 173.31,309.65 173.75,310.90 174.18,312.14 174.61,313.37 175.05,314.59 175.48,315.78 175.92,316.95 176.35,318.09 176.78,319.20 177.22,320.28 177.65,321.33 178.09,322.34 178.52,323.31 178.95,324.24 179.39,325.13 179.82,325.97 180.26,326.77 180.69,327.53 181.12,328.24 181.56,328.90 181.99,329.52 182.43,330.10 182.86,330.63 183.29,331.12 183.73,331.57 184.16,331.97 184.60,332.33 185.03,332.65 185.46,332.93 185.90,333.17 186.33,333.37 186.77,333.54 187.20,333.66 187.63,333.75 188.07,333.80 188.50,333.82 188.94,333.80 189.37,333.74 189.80,333.65 190.24,333.52 190.67,333.35 191.11,333.14 191.54,332.90 191.97,332.61 192.41,332.28 192.84,331.92 193.28,331.51 193.71,331.06 194.14,330.57 194.58,330.03 195.01,329.45 195.45,328.82 195.88,328.15 196.31,327.43 196.75,326.67 197.18,325.86 197.62,325.01 198.05,324.12 198.48,323.18 198.92,322.21 199.35,321.19 199.79,320.14 200.22,319.06 200.65,317.94 201.09,316.80 201.52,315.62 201.96,314.43 202.39,313.21 202.82,311.98 203.26,310.74 203.69,309.49 204.13,308.23 204.56,306.98 204.99,305.72 205.43,304.48 205.86,303.24 206.30,302.02 206.73,300.82 207.16,299.63 207.60,298.48 208.03,297.35 208.47,296.25 208.90,295.19 209.33,294.16 209.77,293.17 210.20,292.22 210.64,291.31 211.07,290.45 211.50,289.62 211.94,288.85 212.37,288.11 212.81,287.42 213.24,286.78 213.67,286.18 214.11,285.63 214.54,285.12 214.98,284.65 215.41,284.23 215.84,283.85 216.28,283.51 216.71,283.21 217.15,282.95 217.58,282.72 218.01,282.54 218.45,282.40 218.88,282.29 219.32,282.22 219.75,282.18 220.18,282.19 220.62,282.23 221.05,282.30 221.49,282.41 221.92,282.56 222.35,282.75 222.79,282.98 223.22,283.24 223.66,283.55 224.09,283.89 224.52,284.28 224.96,284.71 225.39,285.18 225.83,285.70 226.26,286.26 226.69,286.86 227.13,287.51 227.56,288.21 228.00,288.95 228.43,289.73 228.86,290.56 229.30,291.43 229.73,292.34 230.17,293.30 230.60,294.29 231.03,295.33 231.47,296.39 231.90,297.50 232.34,298.63 232.77,299.79 233.20,300.97 233.64,302.18 234.07,303.40 234.51,304.64 234.94,305.89 235.37,307.14 235.81,308.40 236.24,309.65 236.68,310.90 237.11,312.14 237.54,313.37 237.98,314.59 238.41,315.78 238.85,316.95 239.28,318.09 239.71,319.20 240.15,320.28 240.58,321.33 241.02,322.34 241.45,323.31 241.88,324.24 242.32,325.13 242.75,325.97 243.19,326.77 243.62,327.53 244.05,328.24 244.49,328.90 244.92,329.52 245.36,330.10 245.79,330.63 246.22,331.12 246.66,331.57 247.09,331.97 247.53,332.33 247.96,332.65 248.39,332.93 248.83,333.17 249.26,333.37 249.70,333.54 250.13,333.66 250.56,333.75 251.00,333.80 251.43,333.82 251.87,333.80 252.30,333.74" stroke-width="2.4" stroke-dasharray="1.4 1.2"/>
<polyline points="35.30,268.15 35.73,267.07 36.17,266.19 36.60,265.47 37.04,264.86 37.47,264.33 37.90,263.83 38.34,263.38 38.77,262.98 39.21,262.66 39.64,262.44 40.07,262.33 40.51,262.35 40.94,262.49 41.38,262.75 41.81,263.10 42.24,263.53 42.68,264.04 43.11,264.60 43.55,265.21 43.98,265.86 44.41,266.54 44.85,267.24 45.28,267.96 45.72,268.69 46.15,269.44 46.58,270.20 47.02,270.98 47.45,271.78 47.89,272.61 48.32,273.47 48.75,274.37 49.19,275.31 49.62,276.29 50.06,277.31 50.49,278.39 50.92,279.52 51.36,280.69 51.79,281.90 52.23,283.12 52.66,284.35 53.09,285.58 53.53,286.80 53.96,288.00 54.40,289.15 54.83,290.26 55.26,291.31 55.70,292.29 56.13,293.20 56.57,294.08 57.00,294.99 57.43,295.96 57.87,297.06 58.30,298.33 58.74,299.83 59.17,301.60 59.60,303.69 60.04,306.16 60.47,309.01 60.91,312.15 61.34,315.50 61.77,318.95 62.21,322.41 62.64,325.79 63.08,328.99 63.51,331.93 63.94,334.59 64.38,336.97 64.81,339.11 65.25,341.02 65.68,342.73 66.11,344.25 66.55,345.62 66.98,346.84 67.42,347.93 67.85,348.92 68.28,349.80 68.72,350.58 69.15,351.24 69.59,351.80 70.02,352.26 70.45,352.61 70.89,352.87 71.32,353.02 71.76,353.07 72.19,353.03 72.62,352.89 73.06,352.66 73.49,352.35 73.93,351.97 74.36,351.52 74.79,351.02 75.23,350.47 75.66,349.87 76.10,349.25 76.53,348.59 76.96,347.92 77.40,347.23 77.83,346.53 78.27,345.82 78.70,345.11 79.13,344.38 79.57,343.65 80.00,342.92 80.44,342.18 80.87,341.44 81.30,340.69 81.74,339.95 82.17,339.21 82.61,338.47 83.04,337.71 83.47,336.94 83.91,336.14 84.34,335.30 84.78,334.41 85.21,333.48 85.64,332.48 86.08,331.40 86.51,330.25 86.95,329.01 87.38,327.67 87.81,326.22 88.25,324.66 88.68,322.98 89.12,321.17 89.55,319.23 89.98,317.16 90.42,314.95 90.85,312.61 91.29,310.14 91.72,307.53 92.15,304.77 92.59,301.88 93.02,298.85 93.46,295.74 93.89,292.58 94.32,289.43 94.76,286.32 95.19,283.29 95.63,280.41 96.06,277.69 96.49,275.20 96.93,272.98 97.36,271.06 97.80,269.47 98.23,268.15 98.66,267.07 99.10,266.19 99.53,265.47 99.97,264.86 100.40,264.33 100.83,263.83 101.27,263.38 101.70,262.98 102.14,262.66 102.57,262.44 103.00,262.33 103.44,262.35 103.87,262.49 104.31,262.75 104.74,263.10 105.17,263.53 105.61,264.04 106.04,264.60 106.48,265.21 106.91,265.86 107.34,266.54 107.78,267.24 108.21,267.96 108.65,268.69 109.08,269.44 109.51,270.20 109.95,270.98 110.38,271.78 110.82,272.61 111.25,273.47 111.68,274.37 112.12,275.31 112.55,276.29 112.99,277.31 113.42,278.39 113.85,279.52 114.29,280.69 114.72,281.90 115.16,283.12 115.59,284.35 116.02,285.58 116.46,286.80 116.89,288.00 117.33,289.15 117.76,290.26 118.19,291.31 118.63,292.29 119.06,293.20 119.50,294.08 119.93,294.99 120.36,295.96 120.80,297.06 121.23,298.33 121.67,299.83 122.10,301.60 122.53,303.69 122.97,306.16 123.40,309.01 123.84,312.15 124.27,315.50 124.70,318.95 125.14,322.41 125.57,325.79 126.01,328.99 126.44,331.93 126.87,334.59 127.31,336.97 127.74,339.11 128.18,341.02 128.61,342.73 129.04,344.25 129.48,345.62 129.91,346.84 130.35,347.93 130.78,348.92 131.21,349.80 131.65,350.58 132.08,351.24 132.52,351.80 132.95,352.26 133.38,352.61 133.82,352.87 134.25,353.02 134.69,353.07 135.12,353.03 135.55,352.89 135.99,352.66 136.42,352.35 136.86,351.97 137.29,351.52 137.72,351.02 138.16,350.47 138.59,349.87 139.03,349.25 139.46,348.59 139.89,347.92 140.33,347.23 140.76,346.53 141.20,345.82 141.63,345.11 142.06,344.38 142.50,343.65 142.93,342.92 143.37,342.18 143.80,341.44 144.23,340.69 144.67,339.95 145.10,339.21 145.54,338.47 145.97,337.71 146.40,336.94 146.84,336.14 147.27,335.30 147.71,334.41 148.14,333.48 148.57,332.48 149.01,331.40 149.44,330.25 149.88,329.01 150.31,327.67 150.74,326.22 151.18,324.66 151.61,322.98 152.05,321.17 152.48,319.23 152.91,317.16 153.35,314.95 153.78,312.61 154.22,310.14 154.65,307.53 155.08,304.77 155.52,301.88 155.95,298.85 156.39,295.74 156.82,292.58 157.25,289.43 157.69,286.32 158.12,283.29 158.56,280.41 158.99,277.69 159.42,275.20 159.86,272.98 160.29,271.06 160.73,269.47 161.16,268.15 161.59,267.07 162.03,266.19 162.46,265.47 162.90,264.86 163.33,264.33 163.76,263.83 164.20,263.38 164.63,262.98 165.07,262.66 165.50,262.44 165.93,262.33 166.37,262.35 166.80,262.49 167.24,262.75 167.67,263.10 168.10,263.53 168.54,264.04 168.97,264.60 169.41,265.21 169.84,265.86 170.27,266.54 170.71,267.24 171.14,267.96 171.58,268.69 172.01,269.44 172.44,270.20 172.88,270.98 173.31,271.78 173.75,272.61 174.18,273.47 174.61,274.37 175.05,275.31 175.48,276.29 175.92,277.31 176.35,278.39 176.78,279.52 177.22,280.69 177.65,281.90 178.09,283.12 178.52,284.35 178.95,285.58 179.39,286.80 179.82,288.00 180.26,289.15 180.69,290.26 181.12,291.31 181.56,292.29 181.99,293.20 182.43,294.08 182.86,294.99 183.29,295.96 183.73,297.06 184.16,298.33 184.60,299.83 185.03,301.60 185.46,303.69 185.90,306.16 186.33,309.01 186.77,312.15 187.20,315.50 187.63,318.95 188.07,322.41 188.50,325.79 188.94,328.99 189.37,331.93 189.80,334.59 190.24,336.97 190.67,339.11 191.11,341.02 191.54,342.73 191.97,344.25 192.41,345.62 192.84,346.84 193.28,347.93 193.71,348.92 194.14,349.80 194.58,350.58 195.01,351.24 195.45,351.80 195.88,352.26 196.31,352.61 196.75,352.87 197.18,353.02 197.62,353.07 198.05,353.03 198.48,352.89 198.92,352.66 199.35,352.35 199.79,351.97 200.22,351.52 200.65,351.02 201.09,350.47 201.52,349.87 201.96,349.25 202.39,348.59 202.82,347.92 203.26,347.23 203.69,346.53 204.13,345.82 204.56,345.11 204.99,344.38 205.43,343.65 205.86,342.92 206.30,342.18 206.73,341.44 207.16,340.69 207.60,339.95 208.03,339.21 208.47,338.47 208.90,337.71 209.33,336.94 209.77,336.14 210.20,335.30 210.64,334.41 211.07,333.48 211.50,332.48 211.94,331.40 212.37,330.25 212.81,329.01 213.24,327.67 213.67,326.22 214.11,324.66 214.54,322.98 214.98,321.17 215.41,319.23 215.84,317.16 216.28,314.95 216.71,312.61 217.15,310.14 217.58,307.53 218.01,304.77 218.45,301.88 218.88,298.85 219.32,295.74 219.75,292.58 220.18,289.43 220.62,286.32 221.05,283.29 221.49,280.41 221.92,277.69 222.35,275.20 222.79,272.98 223.22,271.06 223.66,269.47 224.09,268.15 224.52,267.07 224.96,266.19 225.39,265.47 225.83,264.86 226.26,264.33 226.69,263.83 227.13,263.38 227.56,262.98 228.00,262.66 228.43,262.44 228.86,262.33 229.30,262.35 229.73,262.49 230.17,262.75 230.60,263.10 231.03,263.53 231.47,264.04 231.90,264.60 232.34,265.21 232.77,265.86 233.20,266.54 233.64,267.24 234.07,267.96 234.51,268.69 234.94,269.44 235.37,270.20 235.81,270.98 236.24,271.78 236.68,272.61 237.11,273.47 237.54,274.37 237.98,275.31 238.41,276.29 238.85,277.31 239.28,278.39 239.71,279.52 240.15,280.69 240.58,281.90 241.02,283.12 241.45,284.35 241.88,285.58 242.32,286.80 242.75,288.00 243.19,289.15 243.62,290.26 244.05,291.31 244.49,292.29 244.92,293.20 245.36,294.08 245.79,294.99 246.22,295.96 246.66,297.06 247.09,298.33 247.53,299.83 247.96,301.60 248.39,303.69 248.83,306.16 249.26,309.01 249.70,312.15 250.13,315.50 250.56,318.95 251.00,322.41 251.43,325.79 251.87,328.99 252.30,331.93" stroke-width="1.7" stroke-dasharray="4.8 2.6"/>
</g>
<rect x="35.3" y="232" width="217.0" height="150.39999999999998" fill="none" stroke="#000" stroke-width="1.3"/>
<line x1="35.30" y1="382.4" x2="35.30" y2="380.4" stroke="#000" stroke-width="0.9"/>
<line x1="44.73" y1="382.4" x2="44.73" y2="380.4" stroke="#000" stroke-width="0.9"/>
<line x1="54.17" y1="382.4" x2="54.17" y2="380.4" stroke="#000" stroke-width="0.9"/>
<line x1="63.60" y1="382.4" x2="63.60" y2="378.4" stroke="#000" stroke-width="0.9"/>
<text x="63.60" y="392.0" font-family="Liberation Sans, sans-serif" font-size="10.3" text-anchor="middle" fill="#000" stroke="#000" stroke-width="0.3">120</text>
<line x1="73.04" y1="382.4" x2="73.04" y2="380.4" stroke="#000" stroke-width="0.9"/>
<line x1="82.47" y1="382.4" x2="82.47" y2="380.4" stroke="#000" stroke-width="0.9"/>
<line x1="91.91" y1="382.4" x2="91.91" y2="380.4" stroke="#000" stroke-width="0.9"/>
<line x1="101.34" y1="382.4" x2="101.34" y2="380.4" stroke="#000" stroke-width="0.9"/>
<line x1="110.78" y1="382.4" x2="110.78" y2="378.4" stroke="#000" stroke-width="0.9"/>
<text x="110.78" y="392.0" font-family="Liberation Sans, sans-serif" font-size="10.3" text-anchor="middle" fill="#000" stroke="#000" stroke-width="0.3">125</text>
<line x1="120.21" y1="382.4" x2="120.21" y2="380.4" stroke="#000" stroke-width="0.9"/>
<line x1="129.65" y1="382.4" x2="129.65" y2="380.4" stroke="#000" stroke-width="0.9"/>
<line x1="139.08" y1="382.4" x2="139.08" y2="380.4" stroke="#000" stroke-width="0.9"/>
<line x1="148.52" y1="382.4" x2="148.52" y2="380.4" stroke="#000" stroke-width="0.9"/>
<line x1="157.95" y1="382.4" x2="157.95" y2="378.4" stroke="#000" stroke-width="0.9"/>
<text x="157.95" y="392.0" font-family="Liberation Sans, sans-serif" font-size="10.3" text-anchor="middle" fill="#000" stroke="#000" stroke-width="0.3">130</text>
<line x1="167.39" y1="382.4" x2="167.39" y2="380.4" stroke="#000" stroke-width="0.9"/>
<line x1="176.82" y1="382.4" x2="176.82" y2="380.4" stroke="#000" stroke-width="0.9"/>
<line x1="186.26" y1="382.4" x2="186.26" y2="380.4" stroke="#000" stroke-width="0.9"/>
<line x1="195.69" y1="382.4" x2="195.69" y2="380.4" stroke="#000" stroke-width="0.9"/>
<line x1="205.13" y1="382.4" x2="205.13" y2="378.4" stroke="#000" stroke-width="0.9"/>
<text x="205.13" y="392.0" font-family="Liberation Sans, sans-serif" font-size="10.3" text-anchor="middle" fill="#000" stroke="#000" stroke-width="0.3">135</text>
<line x1="214.56" y1="382.4" x2="214.56" y2="380.4" stroke="#000" stroke-width="0.9"/>
<line x1="224.00" y1="382.4" x2="224.00" y2="380.4" stroke="#000" stroke-width="0.9"/>
<line x1="233.43" y1="382.4" x2="233.43" y2="380.4" stroke="#000" stroke-width="0.9"/>
<line x1="242.87" y1="382.4" x2="242.87" y2="380.4" stroke="#000" stroke-width="0.9"/>
<line x1="252.30" y1="382.4" x2="252.30" y2="378.4" stroke="#000" stroke-width="0.9"/>
<text x="252.30" y="392.0" font-family="Liberation Sans, sans-serif" font-size="10.3" text-anchor="middle" fill="#000" stroke="#000" stroke-width="0.3">140</text>
<line x1="35.3" y1="245.00" x2="39.8" y2="245.00" stroke="#000" stroke-width="0.9"/>
<text x="32.4" y="249.00" font-family="Liberation Sans, sans-serif" font-size="10.3" text-anchor="end" fill="#000" stroke="#000" stroke-width="0.3">2</text>
<line x1="35.3" y1="276.50" x2="39.8" y2="276.50" stroke="#000" stroke-width="0.9"/>
<text x="32.4" y="280.50" font-family="Liberation Sans, sans-serif" font-size="10.3" text-anchor="end" fill="#000" stroke="#000" stroke-width="0.3">1</text>
<line x1="35.3" y1="308.00" x2="39.8" y2="308.00" stroke="#000" stroke-width="0.9"/>
<text x="32.4" y="312.00" font-family="Liberation Sans, sans-serif" font-size="10.3" text-anchor="end" fill="#000" stroke="#000" stroke-width="0.3">0</text>
<line x1="35.3" y1="339.50" x2="39.8" y2="339.50" stroke="#000" stroke-width="0.9"/>
<text x="32.4" y="343.50" font-family="Liberation Sans, sans-serif" font-size="10.3" text-anchor="end" fill="#000" stroke="#000" stroke-width="0.3">-1</text>
<line x1="35.3" y1="371.00" x2="39.8" y2="371.00" stroke="#000" stroke-width="0.9"/>
<text x="32.4" y="375.00" font-family="Liberation Sans, sans-serif" font-size="10.3" text-anchor="end" fill="#000" stroke="#000" stroke-width="0.3">-2</text>
<line x1="35.3" y1="377.30" x2="37.5" y2="377.30" stroke="#000" stroke-width="0.7"/>
<line x1="35.3" y1="371.00" x2="37.5" y2="371.00" stroke="#000" stroke-width="0.7"/>
<line x1="35.3" y1="364.70" x2="37.5" y2="364.70" stroke="#000" stroke-width="0.7"/>
<line x1="35.3" y1="358.40" x2="37.5" y2="358.40" stroke="#000" stroke-width="0.7"/>
<line x1="35.3" y1="352.10" x2="37.5" y2="352.10" stroke="#000" stroke-width="0.7"/>
<line x1="35.3" y1="345.80" x2="37.5" y2="345.80" stroke="#000" stroke-width="0.7"/>
<line x1="35.3" y1="339.50" x2="37.5" y2="339.50" stroke="#000" stroke-width="0.7"/>
<line x1="35.3" y1="333.20" x2="37.5" y2="333.20" stroke="#000" stroke-width="0.7"/>
<line x1="35.3" y1="326.90" x2="37.5" y2="326.90" stroke="#000" stroke-width="0.7"/>
<line x1="35.3" y1="320.60" x2="37.5" y2="320.60" stroke="#000" stroke-width="0.7"/>
<line x1="35.3" y1="314.30" x2="37.5" y2="314.30" stroke="#000" stroke-width="0.7"/>
<line x1="35.3" y1="308.00" x2="37.5" y2="308.00" stroke="#000" stroke-width="0.7"/>
<line x1="35.3" y1="301.70" x2="37.5" y2="301.70" stroke="#000" stroke-width="0.7"/>
<line x1="35.3" y1="295.40" x2="37.5" y2="295.40" stroke="#000" stroke-width="0.7"/>
<line x1="35.3" y1="289.10" x2="37.5" y2="289.10" stroke="#000" stroke-width="0.7"/>
<line x1="35.3" y1="282.80" x2="37.5" y2="282.80" stroke="#000" stroke-width="0.7"/>
<line x1="35.3" y1="276.50" x2="37.5" y2="276.50" stroke="#000" stroke-width="0.7"/>
<line x1="35.3" y1="270.20" x2="37.5" y2="270.20" stroke="#000" stroke-width="0.7"/>
<line x1="35.3" y1="263.90" x2="37.5" y2="263.90" stroke="#000" stroke-width="0.7"/>
<line x1="35.3" y1="257.60" x2="37.5" y2="257.60" stroke="#000" stroke-width="0.7"/>
<line x1="35.3" y1="251.30" x2="37.5" y2="251.30" stroke="#000" stroke-width="0.7"/>
<line x1="35.3" y1="245.00" x2="37.5" y2="245.00" stroke="#000" stroke-width="0.7"/>
<line x1="35.3" y1="238.70" x2="37.5" y2="238.70" stroke="#000" stroke-width="0.7"/>
<line x1="35.3" y1="232.40" x2="37.5" y2="232.40" stroke="#000" stroke-width="0.7"/>
<text x="133" y="12.5" font-family="Liberation Serif, serif" font-style="italic" font-size="16" fill="#000" stroke="#000" stroke-width="0.2">f<tspan font-size="12" font-style="normal" dx="-1.0" dy="4.6">r</tspan><tspan dy="-4.6" dx="1.2">=0.8</tspan></text>
<text x="133" y="222.5" font-family="Liberation Serif, serif" font-style="italic" font-size="16" fill="#000" stroke="#000" stroke-width="0.2">f<tspan font-size="12" font-style="normal" dx="-1.0" dy="4.6">r</tspan><tspan dy="-4.6" dx="1.2">=1</tspan></text>
<text x="398" y="12.5" font-family="Liberation Serif, serif" font-style="italic" font-size="16" fill="#000" stroke="#000" stroke-width="0.2">f<tspan font-size="12" font-style="normal" dx="-1.0" dy="4.6">r</tspan><tspan dy="-4.6" dx="1.2">=0.8</tspan></text>
<text x="398" y="222.5" font-family="Liberation Serif, serif" font-style="italic" font-size="16" fill="#000" stroke="#000" stroke-width="0.2">f<tspan font-size="12" font-style="normal" dx="-1.0" dy="4.6">r</tspan><tspan dy="-4.6" dx="1.2">=1</tspan></text>
<text x="142" y="197" font-family="Liberation Serif, serif" font-style="italic" font-size="17" fill="#000" stroke="#000" stroke-width="0.2">t</text>
<text x="142.5" y="407" font-family="Liberation Serif, serif" font-style="italic" font-size="17" fill="#000" stroke="#000" stroke-width="0.2">t</text>
<text transform="translate(11.3,113.3) rotate(-90)" font-family="Liberation Serif, serif" font-style="italic" font-size="13.4" fill="#000" stroke="#000" stroke-width="0.2">C<tspan font-size="11" dx="-0.8" dy="4.2">l</tspan><tspan dy="-4.2">, y(t)</tspan></text>
<text transform="translate(11.3,323.3) rotate(-90)" font-family="Liberation Serif, serif" font-style="italic" font-size="13.4" fill="#000" stroke="#000" stroke-width="0.2">C<tspan font-size="11" dx="-0.8" dy="4.2">l</tspan><tspan dy="-4.2">, y(t)</tspan></text>
<text x="0" y="400.8" font-family="Liberation Serif, serif" font-size="18" fill="#000" stroke="#000" stroke-width="0.2">(a)</text>
<text x="277.5" y="400.8" font-family="Liberation Serif, serif" font-size="18" fill="#000" stroke="#000" stroke-width="0.2">(b)</text>
<line x1="113.6" y1="422.2" x2="166" y2="422.2" stroke="#000" stroke-width="1.9" stroke-dasharray="2 1.9"/>
<line x1="113.8" y1="436" x2="166" y2="436" stroke="#000" stroke-width="1.8" stroke-dasharray="4.4 2.3"/>
<line x1="113.8" y1="451.8" x2="167.5" y2="451.8" stroke="#000" stroke-width="1.2"/>
<text x="177" y="426" font-family="Liberation Sans, sans-serif" font-weight="bold" font-size="11.5" fill="#000" stroke="#000" stroke-width="0.2">Cl-Cyl-1</text>
<text x="177" y="439.8" font-family="Liberation Sans, sans-serif" font-weight="bold" font-size="11.5" fill="#000" stroke="#000" stroke-width="0.2">Cl-Cyl-2</text>
<text x="177" y="454.7" font-family="Liberation Sans, sans-serif" font-weight="bold" font-size="11.5" fill="#000" stroke="#000" stroke-width="0.2">Y(t)</text>
<clipPath id="cc1"><rect x="300.7" y="22.7" width="215.8" height="149.9"/></clipPath>
<g clip-path="url(#cc1)">
<rect x="300.7" y="22.7" width="215.8" height="149.9" fill="#76fa38"/>
<path d="M315.0,111.0L314.4,116.7C315.5,118.4 318.5,123.4 321.0,126.7C323.5,130.0 326.9,133.4 329.4,136.7C331.9,140.0 334.1,143.3 336.0,146.7C337.9,150.0 339.3,153.5 341.0,156.8C342.7,160.2 344.8,164.1 346.0,166.8C347.2,169.5 348.1,172.0 348.5,173.0L410.5,173.0C410.5,170.0 410.5,160.2 410.5,155.0C410.5,149.8 410.5,146.7 410.5,141.7C410.5,136.7 409.9,128.7 410.7,125.0C411.4,121.3 412.4,120.8 415.0,119.5C417.6,118.2 422.8,117.7 426.0,117.5C429.2,117.3 432.2,117.3 434.1,118.4C436.0,119.5 436.7,121.5 437.5,124.0C438.3,126.5 437.1,129.9 438.7,133.4C440.3,136.9 443.9,142.1 447.0,145.0C450.1,147.9 453.1,150.2 457.0,150.9C460.9,151.6 466.2,150.4 470.4,149.2C474.6,147.9 478.4,145.5 482.0,143.4C485.6,141.3 488.7,138.4 492.0,136.7C495.3,135.0 497.8,133.9 502.0,133.4C506.2,132.9 514.5,133.4 517.0,133.4L517.0,49.0C515.7,49.6 512.0,50.9 509.0,52.5C506.0,54.1 502.7,56.4 499.0,58.4C495.3,60.4 491.2,62.7 487.0,64.2C482.8,65.7 479.0,67.0 474.0,67.5C469.0,68.0 462.3,68.3 457.0,67.5C451.7,66.7 446.2,64.0 442.0,62.5C437.8,61.0 435.3,59.8 432.0,58.5C428.7,57.2 425.2,56.0 422.0,55.0C418.8,54.0 416.1,53.2 412.5,52.8C408.9,52.4 403.9,52.1 400.3,52.8C396.7,53.5 393.2,55.1 390.6,57.0C388.0,58.9 386.1,61.0 384.5,64.3C382.9,67.5 382.1,71.2 381.0,76.5C379.9,81.8 378.5,92.8 378.0,96.0L360.0,108.0C359.2,106.0 356.4,99.8 355.5,96.0C354.6,92.2 355.6,88.2 354.5,85.0C353.4,81.8 351.6,78.8 349.0,77.0C346.4,75.2 342.3,74.7 339.0,74.5C335.7,74.3 332.2,74.8 329.0,76.0C325.8,77.2 322.4,79.0 320.0,82.0C317.6,85.0 315.4,92.0 314.5,94.0Z" fill="#68fa54"/>
<path d="M383.5,96.0C383.7,94.0 384.0,87.2 384.5,84.0C385.0,80.8 385.5,78.8 386.3,76.5C387.1,74.2 388.1,72.0 389.4,70.4C390.7,68.8 392.0,67.8 394.2,67.0C396.4,66.2 399.6,65.5 402.7,65.8C405.8,66.1 409.4,67.2 412.5,68.6C415.6,70.0 418.4,72.3 421.0,74.0C423.6,75.7 425.5,77.4 428.2,78.9C430.9,80.5 434.2,82.3 437.0,83.3C439.8,84.3 442.7,85.0 445.0,85.0C447.3,85.0 449.0,84.0 451.0,83.0C453.0,82.0 454.6,80.2 457.0,79.2C459.4,78.2 461.8,77.2 465.4,77.1C469.0,77.0 474.5,77.7 478.7,78.7C482.9,79.8 486.5,82.2 490.4,83.4C494.3,84.6 498.8,85.9 502.1,85.9C505.5,85.9 508.0,84.3 510.5,83.4C513.0,82.5 515.9,81.0 517.0,80.5L517.0,118.8C515.1,117.6 508.8,113.5 505.5,111.7C502.2,110.0 499.9,108.7 497.1,108.3C494.3,107.9 491.9,108.2 488.8,109.2C485.7,110.2 482.3,112.2 478.7,114.2C475.1,116.2 470.3,118.5 467.0,120.9C463.7,123.3 461.5,126.5 458.7,128.4C455.9,130.3 452.9,132.3 450.4,132.6C447.9,132.9 445.2,131.5 443.7,130.0C442.2,128.5 442.2,125.6 441.2,123.4C440.2,121.2 439.2,118.1 437.5,116.7C435.8,115.3 433.9,115.5 430.8,115.0C427.7,114.5 422.7,113.2 419.1,113.4C415.5,113.6 411.6,114.5 409.1,115.9C406.6,117.3 405.8,119.4 404.1,121.7C402.4,124.0 401.1,127.2 399.1,130.0C397.2,132.8 395.2,136.3 392.4,138.4C389.6,140.5 385.8,142.3 382.4,142.6C379.0,142.9 375.2,141.6 372.3,140.1C369.4,138.6 366.6,135.9 365.0,133.4C363.4,130.9 362.6,127.8 362.8,125.0C363.0,122.2 364.5,119.0 366.1,116.7C367.7,114.4 371.3,112.0 372.3,111.0Z" fill="#70f9c2"/>
<path d="M315.9,96.8C315.5,95.0 318.4,91.5 319.8,89.5C321.2,87.5 322.7,86.1 324.6,84.6C326.6,83.1 329.1,81.6 331.5,80.7C333.9,79.8 336.7,79.1 339.3,79.3C341.9,79.5 345.1,80.3 347.1,81.7C349.1,83.1 350.6,85.3 351.5,87.6C352.4,89.9 352.8,93.0 352.5,95.4C352.2,97.8 351.4,100.5 350.0,102.2C348.6,103.9 346.3,105.3 344.2,105.6C342.1,105.9 339.4,105.1 337.3,104.2C335.2,103.3 332.9,101.3 331.5,100.3C330.1,99.3 330.6,98.3 329.0,98.3C327.4,98.2 324.2,100.2 322.0,100.0C319.8,99.8 316.3,98.5 315.9,96.8Z" fill="#70f9c2"/>
<ellipse cx="320.3" cy="111" rx="8.3" ry="9" fill="#70f9c2"/>
<path d="M382.5,84.0C382.1,82.0 382.6,79.6 383.3,78.0C384.0,76.4 385.1,75.0 386.5,74.2C387.9,73.4 390.2,73.3 392.0,73.3C393.8,73.3 396.1,73.4 397.5,74.0C398.9,74.6 399.1,75.8 400.6,76.8C402.1,77.8 404.9,78.2 406.5,79.7C408.1,81.2 409.3,83.7 410.0,85.6C410.7,87.5 410.4,90.0 410.8,91.0C411.2,92.0 411.6,91.9 412.5,91.5C413.4,91.1 414.6,89.3 416.0,88.6C417.4,87.9 419.0,87.2 420.8,87.2C422.6,87.2 425.1,87.8 427.0,88.8C428.9,89.8 430.8,91.5 432.0,93.5C433.2,95.5 434.1,98.7 434.0,101.0C433.9,103.3 432.8,105.8 431.5,107.5C430.2,109.2 427.8,110.3 426.0,111.0C424.2,111.7 422.8,111.9 421.0,111.8C419.2,111.7 416.8,111.2 415.0,110.5C413.2,109.8 412.1,107.0 410.5,107.5C408.9,108.0 407.9,111.0 405.7,113.4C403.5,115.8 400.2,119.5 397.4,121.7C394.6,123.9 392.1,125.7 389.0,126.7C385.9,127.7 382.1,128.3 379.0,127.5C375.9,126.7 372.6,124.0 370.7,121.7C368.8,119.4 367.0,115.3 367.3,113.4C367.6,111.5 368.9,112.7 372.3,110.5C375.8,108.3 385.8,103.4 388.0,100.0C390.2,96.6 386.4,92.7 385.5,90.0C384.6,87.3 382.9,86.0 382.5,84.0Z" fill="#6fe0fb"/>
<ellipse cx="467.9" cy="93.3" rx="11.8" ry="11.5" fill="#6fe0fb"/>
<path d="M328.1,91.0C328.2,89.2 331.1,87.6 333.0,86.5C334.9,85.4 337.1,84.6 339.3,84.6C341.5,84.6 344.2,84.9 346.0,86.5C347.8,88.1 349.8,92.2 350.0,94.4C350.2,96.7 348.8,98.6 347.5,100.0C346.2,101.4 343.9,102.5 342.2,102.7C340.4,102.9 338.6,101.9 337.0,101.0C335.4,100.1 334.0,99.0 332.5,97.3C331.0,95.6 328.0,92.8 328.1,91.0Z" fill="#6fe0fb"/>
<ellipse cx="319.6" cy="111" rx="6.6" ry="6.6" fill="#6fe0fb"/>
<path d="M384.6,82.0C384.7,80.5 385.2,78.2 386.5,77.0C387.8,75.8 390.4,74.7 392.4,74.7C394.4,74.7 397.0,75.8 398.3,77.0C399.6,78.2 400.3,80.4 400.4,82.0C400.5,83.6 399.5,85.1 399.0,86.5C398.5,87.9 397.4,89.0 397.5,90.2C397.6,91.4 398.8,92.5 399.5,93.5C400.2,94.5 401.2,95.4 402.0,96.5C402.8,97.6 403.9,98.8 404.5,100.0C405.1,101.2 405.6,102.6 405.6,104.0C405.6,105.4 405.1,106.7 404.3,108.5C403.5,110.3 402.7,112.9 401.0,114.8C399.3,116.7 396.8,118.7 394.2,119.9C391.6,121.1 388.3,121.8 385.4,121.8C382.4,121.8 378.8,121.0 376.5,119.8C374.2,118.6 372.6,116.3 371.8,114.8C371.0,113.2 370.1,112.0 371.5,110.5C372.9,109.0 377.6,108.1 380.0,106.0C382.4,103.9 384.8,100.4 386.0,98.0C387.2,95.6 387.3,93.4 387.3,91.4C387.3,89.4 386.2,87.6 385.8,86.0C385.4,84.4 384.5,83.5 384.6,82.0Z" fill="#3668ea"/>
<ellipse cx="420.8" cy="101.2" rx="7.2" ry="7.2" fill="#3668ea"/>
<ellipse cx="467.9" cy="93.1" rx="3.3" ry="3.3" fill="#3668ea"/>
<ellipse cx="341.8" cy="93.4" rx="5.8" ry="7.0" fill="#3668ea" transform="rotate(-12 341.8 93.4)"/>
<ellipse cx="319" cy="111" rx="5.0" ry="3.9" fill="#3668ea"/>
<path d="M385.7,82.0C385.8,80.8 386.2,78.8 387.3,77.8C388.4,76.8 390.7,75.9 392.4,75.9C394.1,75.9 396.3,76.8 397.4,77.8C398.5,78.8 399.1,80.7 399.2,82.0C399.3,83.3 398.5,84.8 397.8,85.8C397.1,86.8 395.8,87.6 395.2,88.3C394.6,89.0 394.2,89.4 394.3,90.1C394.4,90.8 394.8,91.7 395.5,92.5C396.2,93.3 397.7,94.3 398.5,95.0C399.3,95.7 399.7,96.0 400.4,96.8C401.1,97.6 402.2,98.9 402.8,100.0C403.4,101.1 404.2,102.2 404.2,103.5C404.2,104.8 403.6,106.1 402.9,107.8C402.2,109.5 401.4,111.9 399.8,113.7C398.2,115.5 396.0,117.3 393.6,118.4C391.2,119.5 388.1,120.1 385.4,120.1C382.7,120.1 379.2,119.4 377.2,118.4C375.1,117.4 373.9,115.6 373.1,114.3C372.3,113.0 371.4,111.9 372.5,110.5C373.6,109.1 377.6,108.0 380.0,106.0C382.4,104.0 385.8,100.1 387.0,98.5C388.2,96.9 387.1,97.2 387.4,96.4C387.7,95.6 388.1,94.5 388.6,93.5C389.1,92.5 390.2,91.1 390.2,90.1C390.2,89.1 389.4,88.3 388.8,87.5C388.2,86.7 387.0,86.1 386.5,85.2C386.0,84.3 385.6,83.2 385.7,82.0Z" fill="#1208f4" stroke="#3668ea" stroke-width="2.8" paint-order="stroke"/>
<ellipse cx="421.0" cy="101.3" rx="1.8" ry="1.8" fill="#1208f4"/>
<ellipse cx="342.7" cy="93.5" rx="3.1" ry="4.4" fill="#2b3ff2" transform="rotate(-12 342.7 93.5)"/>
<ellipse cx="318.4" cy="111" rx="3.5" ry="2.4" fill="#1208f4"/>
<path d="M300.0,21.0L340.4,21.0L340.2,23.0C339.9,24.4 339.7,28.3 338.6,31.4C337.5,34.5 335.4,38.3 333.6,41.4C331.8,44.5 329.6,47.2 327.7,49.7C325.8,52.2 323.4,54.5 321.9,56.4C320.4,58.3 319.5,59.5 318.5,61.4C317.5,63.3 316.6,65.9 316.0,68.1C315.4,70.3 315.5,72.0 315.2,74.8C314.9,77.6 314.6,82.0 314.4,84.8C314.2,87.6 313.6,89.6 313.8,91.5C314.0,93.4 315.1,95.2 315.3,96.0L315.3,111.0L315.2,111.0C314.2,113.3 311.2,120.4 309.4,125.0C307.6,129.6 305.7,134.5 304.3,138.4C302.9,142.3 301.7,146.3 301.0,148.4C300.3,150.5 300.2,150.6 300.0,151.0Z" fill="#b8fb38"/>
<path d="M363.6,57.5C365.5,57.7 367.8,59.2 369.5,61.0C371.2,62.8 373.0,65.5 374.0,68.0C375.0,70.5 375.5,72.9 375.6,76.0C375.7,79.1 375.2,83.4 374.8,86.7C374.4,90.0 373.3,91.8 373.0,96.0C372.7,100.2 373.4,109.1 373.0,112.0C372.6,114.9 371.8,114.2 370.3,113.6C368.8,113.0 366.1,110.8 364.0,108.5C361.9,106.2 359.5,103.6 357.8,100.0C356.1,96.4 354.6,90.9 353.6,86.7C352.6,82.5 351.9,78.2 352.0,74.8C352.1,71.3 353.0,68.5 354.0,66.0C355.0,63.5 356.4,61.4 358.0,60.0C359.6,58.6 361.7,57.3 363.6,57.5Z" fill="#b8fb38"/>
<path d="M364.4,77.8C365.7,77.5 367.0,78.6 368.0,79.5C369.0,80.4 369.9,81.6 370.4,83.0C370.9,84.4 371.1,86.2 371.1,87.9C371.1,89.6 370.3,91.2 370.2,93.0C370.1,94.8 370.1,97.6 370.5,99.0C370.9,100.4 372.2,99.7 372.6,101.5C373.0,103.3 372.9,108.7 372.6,110.0C372.3,111.3 371.2,110.6 370.8,109.5C370.4,108.4 370.8,105.3 370.0,103.5C369.2,101.7 367.3,100.0 366.0,98.8C364.7,97.6 363.1,97.6 362.0,96.5C360.9,95.4 359.9,93.6 359.3,92.0C358.7,90.4 358.0,88.5 358.1,86.7C358.2,84.9 358.9,82.5 360.0,81.0C361.1,79.5 363.1,78.0 364.4,77.8Z" fill="#ffe22e"/>
<path d="M300.0,79.0L300.5,79.2C301.6,80.0 305.1,82.2 307.0,84.0C308.9,85.8 310.6,88.0 312.0,90.0C313.4,92.0 314.8,95.0 315.3,96.0L315.3,111.0L315.3,111.0C314.4,111.6 311.7,113.5 310.0,114.5C308.3,115.5 306.6,116.3 305.0,117.0C303.4,117.7 301.2,118.3 300.5,118.6L300.0,118.6Z" fill="#ffe22e"/>
<ellipse cx="305.3" cy="101.8" rx="10.3" ry="9.9" fill="#f67c10"/>
<ellipse cx="309.7" cy="102.2" rx="5.7" ry="5.7" fill="#fb0a0a"/>
</g>
<rect x="314.9" y="96.1" width="14.5" height="14.8" fill="#fff" stroke="#333" stroke-width="0.6"/>
<rect x="372.3" y="96.1" width="14.5" height="14.8" fill="#fff" stroke="#333" stroke-width="0.6"/>
<rect x="300.7" y="22.7" width="215.8" height="149.9" fill="none" stroke="#141414" stroke-width="1.4"/>
<line x1="321.9" y1="172.6" x2="321.9" y2="168.9" stroke="#111" stroke-width="1.3"/>
<line x1="379.6" y1="172.6" x2="379.6" y2="169.9" stroke="#111" stroke-width="1.0"/>
<line x1="437.2" y1="172.6" x2="437.2" y2="169.9" stroke="#111" stroke-width="1.0"/>
<line x1="494.6" y1="172.6" x2="494.6" y2="169.9" stroke="#111" stroke-width="1.0"/>
<line x1="300.7" y1="37.900000000000006" x2="303.09999999999997" y2="37.900000000000006" stroke="#111" stroke-width="0.9"/>
<line x1="300.7" y1="97.7" x2="304.5" y2="97.7" stroke="#111" stroke-width="1.2"/>
<line x1="300.7" y1="158.2" x2="303.09999999999997" y2="158.2" stroke="#111" stroke-width="0.9"/>
<text x="322" y="185.4" font-family="Liberation Sans, sans-serif" font-size="12.2" text-anchor="middle" fill="#000" stroke="#000" stroke-width="0.25">0</text>
<text x="291.5" y="102.0" font-family="Liberation Sans, sans-serif" font-size="12.2" text-anchor="middle" fill="#000" stroke="#000" stroke-width="0.25">0</text>
<clipPath id="cc2"><rect x="300.7" y="232.6" width="215.8" height="149.79999999999998"/></clipPath>
<g clip-path="url(#cc2)">
<rect x="300.7" y="232.6" width="215.8" height="149.79999999999998" fill="#76fa38"/>
<path d="M369.0,306.0C368.8,304.2 367.4,298.8 367.5,295.0C367.6,291.2 367.8,287.4 369.5,283.4C371.2,279.4 374.6,273.9 378.0,271.0C381.4,268.1 386.0,266.3 390.0,266.0C394.0,265.7 398.8,266.8 402.0,269.0C405.2,271.2 407.7,275.5 409.5,279.0C411.3,282.5 411.9,287.2 413.0,290.0C414.1,292.8 414.4,294.3 416.0,295.5C417.6,296.7 419.9,297.7 422.4,297.3C424.9,296.9 428.6,295.9 431.0,293.0C433.4,290.1 434.8,283.8 437.0,280.0C439.2,276.2 441.5,272.6 444.0,270.5C446.5,268.4 449.3,267.6 452.0,267.4C454.7,267.2 457.6,267.6 460.4,269.4C463.2,271.2 466.2,275.2 468.7,278.4C471.2,281.6 473.2,285.8 475.4,288.4C477.6,291.0 479.3,293.1 482.1,294.2C484.9,295.3 488.5,295.1 492.1,295.1C495.7,295.1 500.5,293.6 503.8,294.2C507.1,294.8 509.9,296.6 512.1,298.4C514.3,300.2 516.2,303.9 517.0,305.0L517.0,318.0C516.5,319.7 515.9,324.6 514.0,328.0C512.1,331.4 508.6,336.0 505.5,338.4C502.4,340.8 498.5,342.9 495.4,342.6C492.3,342.3 489.6,339.4 487.1,336.7C484.6,334.0 482.3,329.7 480.4,326.7C478.4,323.7 477.9,319.9 475.4,318.6C472.9,317.4 469.2,319.1 465.4,319.2C461.6,319.3 455.6,318.2 452.5,319.5C449.4,320.8 448.2,323.6 447.0,327.0C445.8,330.4 446.3,335.3 445.0,340.0C443.7,344.7 441.5,350.1 439.1,355.1C436.7,360.1 434.8,366.3 430.8,370.1C426.8,373.9 420.6,377.2 415.0,378.0C409.4,378.8 401.7,377.0 397.4,375.1C393.1,373.2 391.8,371.0 389.0,366.8C386.2,362.6 382.9,355.3 380.7,350.0C378.5,344.7 377.1,339.7 376.0,335.0C374.9,330.3 374.3,323.9 374.0,321.7Z" fill="#68fa54"/>
<path d="M312.0,306.0C312.9,301.4 314.2,297.5 316.0,294.5C317.8,291.5 319.8,289.5 322.5,288.0C325.2,286.5 328.8,285.8 332.0,285.5C335.2,285.2 339.0,285.3 342.0,286.5C345.0,287.7 348.1,289.7 350.0,292.5C351.9,295.3 353.2,299.8 353.5,303.5C353.8,307.2 353.4,311.5 352.0,314.5C350.6,317.5 348.0,320.2 345.0,321.5C342.0,322.8 336.3,320.8 334.0,322.5C331.7,324.2 333.0,329.7 331.0,332.0C329.0,334.3 325.0,336.3 322.0,336.5C319.0,336.7 314.9,335.4 313.0,333.0C311.1,330.6 310.7,326.5 310.5,322.0C310.3,317.5 311.1,310.6 312.0,306.0Z" fill="#68fa54"/>
<path d="M368.3,305.6C368.5,303.6 368.4,296.9 369.3,293.4C370.2,289.9 371.7,287.3 373.7,284.8C375.7,282.3 378.6,279.8 381.3,278.3C384.0,276.9 387.1,276.1 390.0,276.1C392.9,276.1 396.3,276.7 398.6,278.3C400.9,279.9 402.7,282.7 404.0,285.8C405.3,288.9 405.5,294.0 406.2,296.7C406.9,299.4 407.3,300.9 408.4,302.1C409.5,303.3 410.8,303.6 413.0,304.0C415.2,304.4 418.4,304.7 421.7,304.4C424.9,304.1 429.6,303.6 432.5,302.0C435.4,300.4 437.0,297.6 439.0,295.0C441.0,292.4 442.1,289.1 444.5,286.7C446.9,284.3 450.5,280.9 453.7,280.9C456.9,280.9 460.9,284.1 463.7,286.7C466.5,289.3 468.2,293.5 470.4,296.7C472.6,299.9 474.9,304.1 477.1,305.8C479.3,307.5 481.3,307.3 483.8,306.8C486.3,306.3 489.1,303.3 492.1,302.6C495.2,301.9 499.3,301.9 502.1,302.6C504.9,303.3 507.2,304.8 508.8,306.8C510.4,308.8 511.5,311.9 511.6,314.5C511.7,317.1 511.2,319.9 509.6,322.5C508.0,325.1 505.0,328.6 502.1,330.0C499.2,331.4 494.9,331.7 492.1,330.9C489.3,330.1 487.3,327.4 485.4,325.0C483.4,322.6 482.1,319.0 480.4,316.7C478.7,314.4 477.9,311.9 475.4,311.3C472.9,310.8 469.6,312.9 465.4,313.4C461.2,313.9 454.3,313.4 450.4,314.2C446.5,315.0 443.6,316.3 441.8,318.0C440.0,319.7 440.5,322.1 439.6,324.5C438.7,326.9 437.9,330.1 436.3,332.5C434.7,334.9 432.3,337.2 430.0,338.6C427.7,340.0 425.1,340.7 422.4,340.8C419.7,340.9 416.5,340.4 414.0,339.3C411.5,338.2 409.1,336.4 407.4,334.0C405.7,331.6 405.3,327.2 404.0,325.0C402.7,322.8 401.5,321.6 399.7,320.5C397.9,319.4 395.3,318.4 393.2,318.4C391.1,318.3 388.0,319.9 387.0,320.2Z" fill="#70f9c2"/>
<path d="M315.4,305.8C314.8,302.9 317.2,299.7 318.7,297.4C320.1,295.1 321.9,293.3 324.1,291.9C326.3,290.4 329.0,289.0 331.7,288.7C334.4,288.4 337.9,288.7 340.4,289.8C342.9,290.9 345.3,292.9 346.9,295.2C348.5,297.5 349.8,301.0 350.1,303.9C350.5,306.8 350.1,310.1 349.0,312.5C347.9,314.9 345.8,316.9 343.6,318.0C341.4,319.1 338.4,319.2 336.0,319.0C333.6,318.8 331.8,317.6 329.5,316.9C327.2,316.2 324.4,316.9 322.0,315.0C319.6,313.1 315.9,308.7 315.4,305.8Z" fill="#70f9c2"/>
<ellipse cx="319" cy="320.4" rx="7.5" ry="8.4" fill="#70f9c2"/>
<path d="M369.9,305.6C368.2,304.6 369.6,303.0 369.9,301.0C370.2,299.0 370.5,295.9 371.5,293.4C372.5,290.9 374.0,287.9 375.8,285.8C377.6,283.7 380.0,282.1 382.4,281.0C384.8,279.9 387.6,279.2 390.0,279.3C392.4,279.4 394.7,280.1 396.5,281.5C398.3,282.9 399.8,285.5 400.8,288.0C401.8,290.5 402.0,294.2 402.4,296.7C402.8,299.2 402.7,301.4 403.3,303.2C403.9,305.0 405.0,306.6 406.2,307.6C407.4,308.6 409.1,309.2 410.6,309.3C412.1,309.4 413.1,308.4 415.0,308.0C416.9,307.6 419.2,306.4 421.8,306.6C424.4,306.8 428.2,307.0 430.5,309.3C432.8,311.6 435.2,316.7 435.4,320.2C435.6,323.7 433.8,328.2 431.5,330.5C429.2,332.8 425.0,333.9 421.8,333.9C418.6,333.9 414.7,332.4 412.5,330.5C410.3,328.6 409.9,324.7 408.5,322.5C407.1,320.3 405.6,318.9 404.0,317.3C402.4,315.7 400.4,314.0 398.6,313.0C396.8,312.0 395.1,311.7 393.2,311.3C391.3,310.9 389.4,311.5 387.2,310.8C385.0,310.1 382.9,307.9 380.0,307.0C377.1,306.1 371.6,306.6 369.9,305.6Z" fill="#6fe0fb"/>
<ellipse cx="456.6" cy="299.2" rx="11.3" ry="11.7" fill="#6fe0fb"/>
<ellipse cx="495.1" cy="315.9" rx="7.5" ry="8.3" fill="#6fe0fb"/>
<path d="M322.0,302.5C321.9,300.7 323.5,298.4 325.0,297.0C326.5,295.6 328.7,294.5 331.0,294.0C333.3,293.5 336.6,293.3 339.0,293.8C341.4,294.3 343.9,295.2 345.5,297.0C347.1,298.8 348.1,302.1 348.4,304.5C348.7,306.9 348.3,309.7 347.2,311.5C346.1,313.3 343.7,314.6 341.5,315.2C339.3,315.8 336.0,315.6 334.0,315.2C332.0,314.8 330.7,313.7 329.3,312.5C327.9,311.3 326.7,309.7 325.5,308.0C324.3,306.3 322.1,304.3 322.0,302.5Z" fill="#6fe0fb"/>
<ellipse cx="318.6" cy="320.4" rx="6" ry="6.3" fill="#6fe0fb"/>
<path d="M371.6,305.6C370.2,304.4 371.2,301.4 371.7,299.0C372.2,296.6 373.2,293.7 374.7,291.4C376.2,289.1 378.3,286.8 380.5,285.4C382.7,284.0 385.5,283.2 387.8,283.2C390.1,283.2 392.7,284.0 394.5,285.5C396.3,287.0 397.6,289.7 398.4,292.0C399.2,294.3 399.2,297.2 399.1,299.5C399.0,301.8 398.4,303.9 397.5,305.5C396.6,307.1 395.2,308.1 394.0,308.8C392.8,309.5 391.1,309.7 390.0,309.7C388.9,309.7 388.9,309.6 387.2,309.0C385.5,308.4 382.6,306.6 380.0,306.0C377.4,305.4 373.0,306.8 371.6,305.6Z" fill="#3668ea"/>
<ellipse cx="421.8" cy="320.2" rx="10.8" ry="10.6" fill="#3668ea"/>
<ellipse cx="456.7" cy="299.7" rx="6.3" ry="7" fill="#3668ea"/>
<path d="M325.2,301.0C324.9,299.0 326.5,297.9 328.0,297.0C329.5,296.1 331.8,295.9 334.0,295.8C336.2,295.7 339.1,295.9 341.0,296.6C342.9,297.3 344.6,298.4 345.6,300.0C346.6,301.6 347.3,304.2 347.2,306.0C347.1,307.8 346.6,309.7 345.2,311.0C343.8,312.3 341.0,313.4 339.0,313.6C337.0,313.9 334.6,313.3 333.0,312.5C331.4,311.7 330.8,310.9 329.5,309.0C328.2,307.1 325.4,303.0 325.2,301.0Z" fill="#3668ea"/>
<ellipse cx="318.4" cy="320.4" rx="5.3" ry="4.2" fill="#3668ea"/>
<path d="M372.6,305.6C371.4,304.6 372.3,302.2 372.8,300.0C373.3,297.8 374.4,294.6 375.8,292.4C377.2,290.2 379.3,288.2 381.3,286.9C383.3,285.6 385.7,284.8 387.8,284.8C389.9,284.8 392.2,285.6 393.7,286.9C395.2,288.2 396.4,290.4 397.0,292.4C397.6,294.4 397.8,296.9 397.5,298.9C397.2,300.9 396.5,302.9 395.4,304.3C394.3,305.7 392.4,306.6 391.0,307.0C389.6,307.4 389.0,306.7 387.2,306.5C385.4,306.3 382.4,306.1 380.0,306.0C377.6,305.9 373.8,306.6 372.6,305.6Z" fill="#1208f4" stroke="#3668ea" stroke-width="2.8" paint-order="stroke"/>
<ellipse cx="422.1" cy="320.2" rx="7.6" ry="7.6" fill="#1208f4"/>
<ellipse cx="337.6" cy="306" rx="7.9" ry="6.5" fill="#1208f4" transform="rotate(12 337.6 306)"/>
<ellipse cx="318.6" cy="320.4" rx="3.8" ry="2.6" fill="#1208f4"/>
<path d="M300.0,231.0L324.4,231.0L324.4,233.0C324.2,234.4 323.9,238.6 323.5,241.4C323.1,244.2 322.6,246.9 321.9,249.7C321.2,252.5 320.2,255.2 319.4,258.0C318.6,260.8 317.7,263.3 316.9,266.4C316.1,269.5 315.2,273.1 314.7,276.4C314.2,279.7 314.2,282.8 314.0,286.4C313.8,290.0 313.3,294.9 313.5,298.1C313.7,301.3 314.9,304.2 315.2,305.4L315.2,320.4L315.2,320.4C314.2,322.3 310.9,327.0 309.4,331.7C307.9,336.4 306.9,342.8 306.0,348.4C305.1,354.0 304.9,359.3 304.3,365.1C303.8,370.9 303.0,380.0 302.7,383.0L300.0,383.0Z" fill="#b8fb38"/>
<ellipse cx="356.9" cy="289.6" rx="6.3" ry="12" fill="#b8fb38"/>
<ellipse cx="369" cy="317" rx="6" ry="10.5" fill="#b8fb38"/>
<ellipse cx="461.7" cy="332.2" rx="5" ry="4.2" fill="#cdf846"/>
<path d="M300.0,289.5L301.0,290.0C302.2,290.8 306.2,293.3 308.0,295.0C309.8,296.7 310.8,298.3 312.0,300.0C313.2,301.7 314.7,304.5 315.2,305.4L315.2,320.4L315.2,320.4C314.3,321.0 311.6,322.8 310.0,324.0C308.4,325.2 306.7,326.2 305.5,327.5C304.3,328.8 303.1,329.1 302.6,332.0C302.1,334.9 302.4,336.5 302.3,345.0C302.2,353.5 302.1,376.7 302.0,383.0L300.0,383.0Z" fill="#ffe22e"/>
<ellipse cx="368.7" cy="315.7" rx="4.8" ry="7" fill="#ffe22e"/>
<ellipse cx="305.5" cy="310.7" rx="10.3" ry="9.8" fill="#f67c10"/>
<ellipse cx="369.8" cy="315.9" rx="3" ry="4.7" fill="#f67c10"/>
<ellipse cx="309.6" cy="310.9" rx="5.7" ry="5.7" fill="#fb0a0a"/>
<ellipse cx="370.8" cy="315.9" rx="1.8" ry="3" fill="#fb0a0a"/>
</g>
<rect x="314.9" y="305.5" width="14.5" height="14.8" fill="#fff" stroke="#333" stroke-width="0.6"/>
<rect x="372.3" y="305.5" width="14.5" height="14.8" fill="#fff" stroke="#333" stroke-width="0.6"/>
<rect x="300.7" y="232.6" width="215.8" height="149.79999999999998" fill="none" stroke="#141414" stroke-width="1.4"/>
<line x1="321.9" y1="382.4" x2="321.9" y2="378.7" stroke="#111" stroke-width="1.3"/>
<line x1="379.6" y1="382.4" x2="379.6" y2="379.7" stroke="#111" stroke-width="1.0"/>
<line x1="437.2" y1="382.4" x2="437.2" y2="379.7" stroke="#111" stroke-width="1.0"/>
<line x1="494.6" y1="382.4" x2="494.6" y2="379.7" stroke="#111" stroke-width="1.0"/>
<line x1="300.7" y1="247.39999999999998" x2="303.09999999999997" y2="247.39999999999998" stroke="#111" stroke-width="0.9"/>
<line x1="300.7" y1="307.2" x2="304.5" y2="307.2" stroke="#111" stroke-width="1.2"/>
<line x1="300.7" y1="367.7" x2="303.09999999999997" y2="367.7" stroke="#111" stroke-width="0.9"/>
<text x="322" y="395.2" font-family="Liberation Sans, sans-serif" font-size="12.2" text-anchor="middle" fill="#000" stroke="#000" stroke-width="0.25">0</text>
<text x="291.5" y="311.5" font-family="Liberation Sans, sans-serif" font-size="12.2" text-anchor="middle" fill="#000" stroke="#000" stroke-width="0.25">0</text>
<rect x="295.70" y="424.8" width="7.90" height="13.3" fill="#1208f4" stroke="#2a2a2a" stroke-width="0.65"/>
<rect x="303.60" y="424.8" width="25.87" height="13.3" fill="#3668ea" stroke="#2a2a2a" stroke-width="0.65"/>
<rect x="329.47" y="424.8" width="25.87" height="13.3" fill="#6fe0fb" stroke="#2a2a2a" stroke-width="0.65"/>
<rect x="355.34" y="424.8" width="25.87" height="13.3" fill="#70f9c2" stroke="#2a2a2a" stroke-width="0.65"/>
<rect x="381.21" y="424.8" width="25.87" height="13.3" fill="#68fa54" stroke="#2a2a2a" stroke-width="0.65"/>
<rect x="407.08" y="424.8" width="25.87" height="13.3" fill="#76fa38" stroke="#2a2a2a" stroke-width="0.65"/>
<rect x="432.95" y="424.8" width="25.87" height="13.3" fill="#b8fb38" stroke="#2a2a2a" stroke-width="0.65"/>
<rect x="458.82" y="424.8" width="25.87" height="13.3" fill="#ffe22e" stroke="#2a2a2a" stroke-width="0.65"/>
<rect x="484.69" y="424.8" width="25.87" height="13.3" fill="#f67c10" stroke="#2a2a2a" stroke-width="0.65"/>
<rect x="510.56" y="424.8" width="13.44" height="13.3" fill="#fb0a0a" stroke="#2a2a2a" stroke-width="0.65"/>
<text x="303.60" y="449.9" font-family="Liberation Sans, sans-serif" font-size="9.5" text-anchor="middle" fill="#000" stroke="#000" stroke-width="0.35">-1</text>
<text x="329.47" y="449.9" font-family="Liberation Sans, sans-serif" font-size="9.5" text-anchor="middle" fill="#000" stroke="#000" stroke-width="0.35">-0.75</text>
<text x="355.34" y="449.9" font-family="Liberation Sans, sans-serif" font-size="9.5" text-anchor="middle" fill="#000" stroke="#000" stroke-width="0.35">-0.5</text>
<text x="381.21" y="449.9" font-family="Liberation Sans, sans-serif" font-size="9.5" text-anchor="middle" fill="#000" stroke="#000" stroke-width="0.35">-0.25</text>
<text x="407.08" y="449.9" font-family="Liberation Sans, sans-serif" font-size="9.5" text-anchor="middle" fill="#000" stroke="#000" stroke-width="0.35">0</text>
<text x="432.95" y="449.9" font-family="Liberation Sans, sans-serif" font-size="9.5" text-anchor="middle" fill="#000" stroke="#000" stroke-width="0.35">0.25</text>
<text x="458.82" y="449.9" font-family="Liberation Sans, sans-serif" font-size="9.5" text-anchor="middle" fill="#000" stroke="#000" stroke-width="0.35">0.5</text>
<text x="484.69" y="449.9" font-family="Liberation Sans, sans-serif" font-size="9.5" text-anchor="middle" fill="#000" stroke="#000" stroke-width="0.35">0.75</text>
<text x="510.56" y="449.9" font-family="Liberation Sans, sans-serif" font-size="9.5" text-anchor="middle" fill="#000" stroke="#000" stroke-width="0.35">1</text>
</g>
</svg>
</body></html>
